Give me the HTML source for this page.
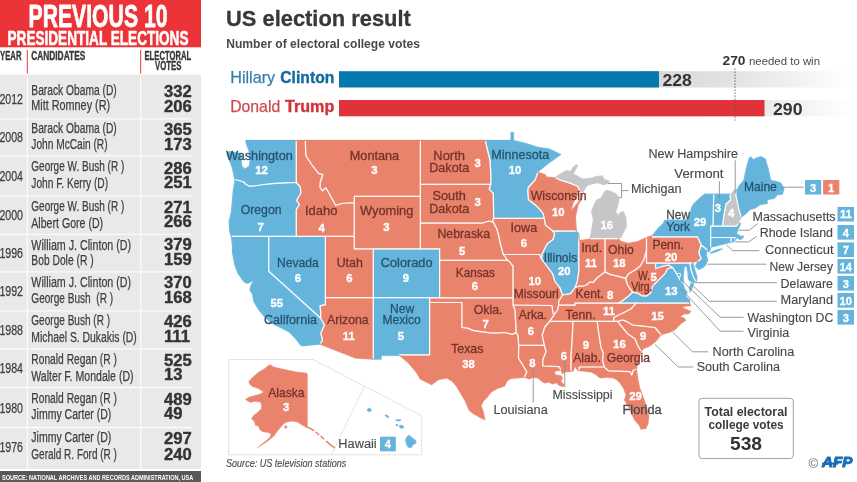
<!DOCTYPE html>
<html lang="en"><head><meta charset="utf-8"><title>US election result</title>
<style>
html,body{margin:0;padding:0;background:#fff}
body{width:857px;height:482px;overflow:hidden}
svg{display:block;font-family:"Liberation Sans",sans-serif}
svg text{white-space:pre}
</style></head><body>
<svg width="857" height="482" viewBox="0 0 857 482">
<rect width="857" height="482" fill="#fff"/>
<rect x="0" y="0" width="201" height="471" fill="#e9e9ea"/>
<rect x="0" y="0" width="201" height="47.5" fill="#ec3338"/>
<rect x="0" y="47.5" width="201" height="27" fill="#fff"/>
<text x="28.5" y="26.8" font-size="31.4" fill="#fff" font-weight="bold" textLength="139.0" lengthAdjust="spacingAndGlyphs" stroke="#fff" stroke-width="0.8" stroke-linejoin="round">PREVIOUS 10</text>
<text x="7.5" y="44.9" font-size="20" fill="#fff" font-weight="bold" textLength="181.0" lengthAdjust="spacingAndGlyphs" stroke="#fff" stroke-width="0.6" stroke-linejoin="round">PRESIDENTIAL ELECTIONS</text>
<text x="0.0" y="60.0" font-size="12.8" fill="#3a3a3a" font-weight="bold" textLength="21.5" lengthAdjust="spacingAndGlyphs" stroke="#3a3a3a" stroke-width="0.4" stroke-linejoin="round">YEAR</text>
<text x="31.2" y="60.0" font-size="12.8" fill="#3a3a3a" font-weight="bold" textLength="54.1" lengthAdjust="spacingAndGlyphs" stroke="#3a3a3a" stroke-width="0.4" stroke-linejoin="round">CANDIDATES</text>
<text x="144.5" y="60.0" font-size="12.8" fill="#3a3a3a" font-weight="bold" textLength="46.7" lengthAdjust="spacingAndGlyphs" stroke="#3a3a3a" stroke-width="0.4" stroke-linejoin="round">ELECTORAL</text>
<text x="155.0" y="70.3" font-size="12.8" fill="#3a3a3a" font-weight="bold" textLength="26.5" lengthAdjust="spacingAndGlyphs" stroke="#3a3a3a" stroke-width="0.4" stroke-linejoin="round">VOTES</text>
<path d="M27.3 50V73.5M140.7 50V73.5" stroke="#ec3338" stroke-width="1" fill="none"/>
<path d="M0 118.8H192.3M0 155.8H192.3M0 195.8H192.3M0 234.3H192.3M0 271.8H192.3M0 310.8H192.3M0 348.8H192.3M0 387.5H192.3M0 427.5H192.3M27.4 74.5V469M140.7 74.5V469" stroke="#fff" stroke-opacity="0.8" stroke-width="1.3" fill="none"/>
<rect x="0" y="469" width="201" height="2" fill="#fff"/>
<rect x="0" y="471" width="201" height="11" fill="#58595b"/>
<text x="2.0" y="479.6" font-size="8" fill="#fff" font-weight="bold" textLength="191.3" lengthAdjust="spacingAndGlyphs">SOURCE: NATIONAL ARCHIVES AND RECORDS ADMINISTRATION, USA</text>
<text x="-0.6" y="104.2" font-size="13.8" fill="#3f3f3f" textLength="23.6" lengthAdjust="spacingAndGlyphs" stroke="#3f3f3f" stroke-width="0.25" stroke-linejoin="round">2012</text>
<text x="31.3" y="94.7" font-size="13.8" fill="#3f3f3f" textLength="85.5" lengthAdjust="spacingAndGlyphs" stroke="#3f3f3f" stroke-width="0.25" stroke-linejoin="round" xml:space="preserve">Barack Obama (D)</text>
<text x="31.3" y="110.3" font-size="13.8" fill="#3f3f3f" textLength="78.8" lengthAdjust="spacingAndGlyphs" stroke="#3f3f3f" stroke-width="0.25" stroke-linejoin="round" xml:space="preserve">Mitt Romney (R)</text>
<text x="164.0" y="96.5" font-size="15.7" fill="#333" font-weight="bold" textLength="27.8" lengthAdjust="spacingAndGlyphs" stroke="#333" stroke-width="0.35" stroke-linejoin="round">332</text>
<text x="164.0" y="112.0" font-size="15.7" fill="#333" font-weight="bold" textLength="27.8" lengthAdjust="spacingAndGlyphs" stroke="#333" stroke-width="0.35" stroke-linejoin="round">206</text>
<text x="-0.6" y="142.3" font-size="13.8" fill="#3f3f3f" textLength="23.6" lengthAdjust="spacingAndGlyphs" stroke="#3f3f3f" stroke-width="0.25" stroke-linejoin="round">2008</text>
<text x="31.3" y="133.3" font-size="13.8" fill="#3f3f3f" textLength="85.5" lengthAdjust="spacingAndGlyphs" stroke="#3f3f3f" stroke-width="0.25" stroke-linejoin="round" xml:space="preserve">Barack Obama (D)</text>
<text x="31.3" y="149.2" font-size="13.8" fill="#3f3f3f" textLength="76.3" lengthAdjust="spacingAndGlyphs" stroke="#3f3f3f" stroke-width="0.25" stroke-linejoin="round" xml:space="preserve">John McCain (R)</text>
<text x="164.0" y="134.7" font-size="15.7" fill="#333" font-weight="bold" textLength="27.8" lengthAdjust="spacingAndGlyphs" stroke="#333" stroke-width="0.35" stroke-linejoin="round">365</text>
<text x="164.0" y="149.7" font-size="15.7" fill="#333" font-weight="bold" textLength="27.8" lengthAdjust="spacingAndGlyphs" stroke="#333" stroke-width="0.35" stroke-linejoin="round">173</text>
<text x="-0.6" y="181.2" font-size="13.8" fill="#3f3f3f" textLength="23.6" lengthAdjust="spacingAndGlyphs" stroke="#3f3f3f" stroke-width="0.25" stroke-linejoin="round">2004</text>
<text x="31.3" y="171.2" font-size="13.8" fill="#3f3f3f" textLength="93.0" lengthAdjust="spacingAndGlyphs" stroke="#3f3f3f" stroke-width="0.25" stroke-linejoin="round" xml:space="preserve">George W. Bush (R )</text>
<text x="31.3" y="187.5" font-size="13.8" fill="#3f3f3f" textLength="76.8" lengthAdjust="spacingAndGlyphs" stroke="#3f3f3f" stroke-width="0.25" stroke-linejoin="round" xml:space="preserve">John F. Kerry (D)</text>
<text x="164.0" y="174.2" font-size="15.7" fill="#333" font-weight="bold" textLength="27.8" lengthAdjust="spacingAndGlyphs" stroke="#333" stroke-width="0.35" stroke-linejoin="round">286</text>
<text x="164.0" y="188.4" font-size="15.7" fill="#333" font-weight="bold" textLength="27.8" lengthAdjust="spacingAndGlyphs" stroke="#333" stroke-width="0.35" stroke-linejoin="round">251</text>
<text x="-0.6" y="220.0" font-size="13.8" fill="#3f3f3f" textLength="23.6" lengthAdjust="spacingAndGlyphs" stroke="#3f3f3f" stroke-width="0.25" stroke-linejoin="round">2000</text>
<text x="31.3" y="210.5" font-size="13.8" fill="#3f3f3f" textLength="93.0" lengthAdjust="spacingAndGlyphs" stroke="#3f3f3f" stroke-width="0.25" stroke-linejoin="round" xml:space="preserve">George W. Bush (R )</text>
<text x="31.3" y="227.5" font-size="13.8" fill="#3f3f3f" textLength="71.8" lengthAdjust="spacingAndGlyphs" stroke="#3f3f3f" stroke-width="0.25" stroke-linejoin="round" xml:space="preserve">Albert Gore (D)</text>
<text x="164.0" y="212.7" font-size="15.7" fill="#333" font-weight="bold" textLength="27.8" lengthAdjust="spacingAndGlyphs" stroke="#333" stroke-width="0.35" stroke-linejoin="round">271</text>
<text x="164.0" y="227.2" font-size="15.7" fill="#333" font-weight="bold" textLength="27.8" lengthAdjust="spacingAndGlyphs" stroke="#333" stroke-width="0.35" stroke-linejoin="round">266</text>
<text x="-0.6" y="257.5" font-size="13.8" fill="#3f3f3f" textLength="23.6" lengthAdjust="spacingAndGlyphs" stroke="#3f3f3f" stroke-width="0.25" stroke-linejoin="round">1996</text>
<text x="31.3" y="249.5" font-size="13.8" fill="#3f3f3f" textLength="99.8" lengthAdjust="spacingAndGlyphs" stroke="#3f3f3f" stroke-width="0.25" stroke-linejoin="round" xml:space="preserve">William J. Clinton (D)</text>
<text x="31.3" y="265.0" font-size="13.8" fill="#3f3f3f" textLength="62.3" lengthAdjust="spacingAndGlyphs" stroke="#3f3f3f" stroke-width="0.25" stroke-linejoin="round" xml:space="preserve">Bob Dole (R )</text>
<text x="164.0" y="250.2" font-size="15.7" fill="#333" font-weight="bold" textLength="27.8" lengthAdjust="spacingAndGlyphs" stroke="#333" stroke-width="0.35" stroke-linejoin="round">379</text>
<text x="164.0" y="265.2" font-size="15.7" fill="#333" font-weight="bold" textLength="27.8" lengthAdjust="spacingAndGlyphs" stroke="#333" stroke-width="0.35" stroke-linejoin="round">159</text>
<text x="-0.6" y="296.2" font-size="13.8" fill="#3f3f3f" textLength="23.6" lengthAdjust="spacingAndGlyphs" stroke="#3f3f3f" stroke-width="0.25" stroke-linejoin="round">1992</text>
<text x="31.3" y="287.0" font-size="13.8" fill="#3f3f3f" textLength="99.8" lengthAdjust="spacingAndGlyphs" stroke="#3f3f3f" stroke-width="0.25" stroke-linejoin="round" xml:space="preserve">William J. Clinton (D)</text>
<text x="31.3" y="302.5" font-size="13.8" fill="#3f3f3f" textLength="81.8" lengthAdjust="spacingAndGlyphs" stroke="#3f3f3f" stroke-width="0.25" stroke-linejoin="round" xml:space="preserve">George Bush  (R )</text>
<text x="164.0" y="288.4" font-size="15.7" fill="#333" font-weight="bold" textLength="27.8" lengthAdjust="spacingAndGlyphs" stroke="#333" stroke-width="0.35" stroke-linejoin="round">370</text>
<text x="164.0" y="302.9" font-size="15.7" fill="#333" font-weight="bold" textLength="27.8" lengthAdjust="spacingAndGlyphs" stroke="#333" stroke-width="0.35" stroke-linejoin="round">168</text>
<text x="-0.6" y="334.5" font-size="13.8" fill="#3f3f3f" textLength="23.6" lengthAdjust="spacingAndGlyphs" stroke="#3f3f3f" stroke-width="0.25" stroke-linejoin="round">1988</text>
<text x="31.3" y="325.0" font-size="13.8" fill="#3f3f3f" textLength="78.8" lengthAdjust="spacingAndGlyphs" stroke="#3f3f3f" stroke-width="0.25" stroke-linejoin="round" xml:space="preserve">George Bush (R )</text>
<text x="31.3" y="342.0" font-size="13.8" fill="#3f3f3f" textLength="105.5" lengthAdjust="spacingAndGlyphs" stroke="#3f3f3f" stroke-width="0.25" stroke-linejoin="round" xml:space="preserve">Michael S. Dukakis (D)</text>
<text x="164.0" y="326.7" font-size="15.7" fill="#333" font-weight="bold" textLength="27.8" lengthAdjust="spacingAndGlyphs" stroke="#333" stroke-width="0.35" stroke-linejoin="round">426</text>
<text x="164.0" y="342.2" font-size="15.7" fill="#333" font-weight="bold" textLength="25.9" lengthAdjust="spacingAndGlyphs" stroke="#333" stroke-width="0.35" stroke-linejoin="round">111</text>
<text x="-0.6" y="373.0" font-size="13.8" fill="#3f3f3f" textLength="23.6" lengthAdjust="spacingAndGlyphs" stroke="#3f3f3f" stroke-width="0.25" stroke-linejoin="round">1984</text>
<text x="31.3" y="363.7" font-size="13.8" fill="#3f3f3f" textLength="85.5" lengthAdjust="spacingAndGlyphs" stroke="#3f3f3f" stroke-width="0.25" stroke-linejoin="round" xml:space="preserve">Ronald Regan (R )</text>
<text x="31.3" y="380.5" font-size="13.8" fill="#3f3f3f" textLength="102.3" lengthAdjust="spacingAndGlyphs" stroke="#3f3f3f" stroke-width="0.25" stroke-linejoin="round" xml:space="preserve">Walter F. Mondale (D)</text>
<text x="164.0" y="365.9" font-size="15.7" fill="#333" font-weight="bold" textLength="27.8" lengthAdjust="spacingAndGlyphs" stroke="#333" stroke-width="0.35" stroke-linejoin="round">525</text>
<text x="164.0" y="379.7" font-size="15.7" fill="#333" font-weight="bold" textLength="18.5" lengthAdjust="spacingAndGlyphs" stroke="#333" stroke-width="0.35" stroke-linejoin="round">13</text>
<text x="-0.6" y="412.5" font-size="13.8" fill="#3f3f3f" textLength="23.6" lengthAdjust="spacingAndGlyphs" stroke="#3f3f3f" stroke-width="0.25" stroke-linejoin="round">1980</text>
<text x="31.3" y="403.0" font-size="13.8" fill="#3f3f3f" textLength="85.5" lengthAdjust="spacingAndGlyphs" stroke="#3f3f3f" stroke-width="0.25" stroke-linejoin="round" xml:space="preserve">Ronald Regan (R )</text>
<text x="31.3" y="419.2" font-size="13.8" fill="#3f3f3f" textLength="80.0" lengthAdjust="spacingAndGlyphs" stroke="#3f3f3f" stroke-width="0.25" stroke-linejoin="round" xml:space="preserve">Jimmy Carter (D)</text>
<text x="164.0" y="404.7" font-size="15.7" fill="#333" font-weight="bold" textLength="27.8" lengthAdjust="spacingAndGlyphs" stroke="#333" stroke-width="0.35" stroke-linejoin="round">489</text>
<text x="164.0" y="418.9" font-size="15.7" fill="#333" font-weight="bold" textLength="18.5" lengthAdjust="spacingAndGlyphs" stroke="#333" stroke-width="0.35" stroke-linejoin="round">49</text>
<text x="-0.6" y="451.6" font-size="13.8" fill="#3f3f3f" textLength="23.6" lengthAdjust="spacingAndGlyphs" stroke="#3f3f3f" stroke-width="0.25" stroke-linejoin="round">1976</text>
<text x="31.3" y="442.0" font-size="13.8" fill="#3f3f3f" textLength="80.0" lengthAdjust="spacingAndGlyphs" stroke="#3f3f3f" stroke-width="0.25" stroke-linejoin="round" xml:space="preserve">Jimmy Carter (D)</text>
<text x="31.3" y="458.6" font-size="13.8" fill="#3f3f3f" textLength="85.6" lengthAdjust="spacingAndGlyphs" stroke="#3f3f3f" stroke-width="0.25" stroke-linejoin="round" xml:space="preserve">Gerald R. Ford (R )</text>
<text x="164.0" y="443.6" font-size="15.7" fill="#333" font-weight="bold" textLength="27.8" lengthAdjust="spacingAndGlyphs" stroke="#333" stroke-width="0.35" stroke-linejoin="round">297</text>
<text x="164.0" y="459.8" font-size="15.7" fill="#333" font-weight="bold" textLength="27.8" lengthAdjust="spacingAndGlyphs" stroke="#333" stroke-width="0.35" stroke-linejoin="round">240</text>
<text x="226.0" y="26.3" font-size="22.6" fill="#383838" font-weight="bold" textLength="184.8" lengthAdjust="spacingAndGlyphs" stroke="#383838" stroke-width="0.3" stroke-linejoin="round">US election result</text>
<text x="226.2" y="47.5" font-size="12.8" fill="#4a4a4a" font-weight="bold" textLength="193.8" lengthAdjust="spacingAndGlyphs">Number of electoral college votes</text>
<defs><linearGradient id="tr" x1="0" x2="1" y1="0" y2="0"><stop offset="0" stop-color="#d6d6d6"/><stop offset="0.45" stop-color="#e3e3e3"/><stop offset="1" stop-color="#ffffff"/></linearGradient></defs>
<rect x="640" y="71.2" width="212" height="16.3" fill="url(#tr)"/>
<rect x="640" y="100" width="212" height="16.3" fill="url(#tr)"/>
<rect x="339" y="71.2" width="320" height="16.3" fill="#0578b0"/>
<rect x="339" y="100" width="425.5" height="16.3" fill="#df3339"/>
<path d="M735 68.5V120.5" stroke="#555" stroke-width="1" stroke-dasharray="1.3 1.7" fill="none"/>
<text x="230.2" y="83.2" font-size="16.2" fill="#357fad" textLength="45.0" lengthAdjust="spacingAndGlyphs" stroke="#357fad" stroke-width="0.25" stroke-linejoin="round">Hillary</text>
<text x="280.3" y="83.2" font-size="16.2" fill="#126b9e" font-weight="bold" textLength="54.0" lengthAdjust="spacingAndGlyphs" stroke="#126b9e" stroke-width="0.4" stroke-linejoin="round">Clinton</text>
<text x="230.2" y="112.2" font-size="16.2" fill="#d0494e" textLength="50.0" lengthAdjust="spacingAndGlyphs" stroke="#d0494e" stroke-width="0.25" stroke-linejoin="round">Donald</text>
<text x="285.0" y="112.2" font-size="16.2" fill="#d03339" font-weight="bold" textLength="49.3" lengthAdjust="spacingAndGlyphs" stroke="#d03339" stroke-width="0.4" stroke-linejoin="round">Trump</text>
<text x="662.5" y="85.7" font-size="17" fill="#333" font-weight="bold" textLength="29.3" lengthAdjust="spacingAndGlyphs">228</text>
<text x="773.0" y="115.0" font-size="17" fill="#333" font-weight="bold" textLength="29.5" lengthAdjust="spacingAndGlyphs">290</text>
<text x="722.5" y="64.5" font-size="12.3" fill="#333" font-weight="bold" textLength="23.0" lengthAdjust="spacingAndGlyphs">270</text>
<text x="749.0" y="64.5" font-size="10.8" fill="#4a4a4a" textLength="71.0" lengthAdjust="spacingAndGlyphs">needed to win</text>
<g stroke-width="0.3" stroke-linejoin="round">
<path d="M245.5 140.0L296.3 140.0L296.3 182.5L285.0 182.8L272.0 183.7L260.3 185.0L254.0 186.0L249.5 186.2L246.0 184.5L243.7 182.0L239.0 180.5L234.5 179.5L233.5 175.0L232.0 168.0L229.0 160.0L226.5 154.0L229.0 151.3L236.0 152.2L241.0 153.2L241.5 160.0L242.0 166.0L245.0 168.8L249.0 166.0L250.0 159.0L248.5 150.0L246.0 144.0Z" fill="#64b4dc" stroke="#64b4dc"/>
<path d="M234.5 179.5L239.0 180.5L243.7 182.0L246.0 184.5L249.5 186.2L254.0 186.0L260.3 185.0L272.0 183.7L285.0 182.8L296.3 182.5L300.3 187.0L300.8 193.3L298.0 198.0L296.7 200.3L299.5 204.5L296.3 209.5L296.3 236.4L231.0 236.4L229.5 232.0L228.7 222.0L231.0 212.0L232.2 198.7L233.0 190.0L234.5 182.0Z" fill="#64b4dc" stroke="#64b4dc"/>
<path d="M231.0 236.4L268.7 236.4L268.7 271.2L320.5 318.0L323.7 323.7L324.2 325.5L320.8 333.3L322.5 340.0L320.0 344.4L302.0 346.2L300.3 345.3L295.3 338.7L288.7 332.0L280.3 327.8L272.0 323.7L268.0 320.5L263.7 316.2L258.7 310.3L253.7 302.0L252.0 293.7L249.5 290.3L250.5 286.0L253.0 281.0L250.0 282.5L247.0 283.7L243.7 282.0L237.8 273.7L234.5 265.3L232.0 252.0L232.0 245.3Z" fill="#64b4dc" stroke="#64b4dc"/>
<path d="M268.7 236.4L325.4 236.4L325.4 297.7L325.4 304.7L320.0 305.8L320.8 313.3L320.5 318.0L268.7 271.2Z" fill="#64b4dc" stroke="#64b4dc"/>
<path d="M296.3 140.0L305.3 140.0L305.8 155.0L307.0 157.5L312.0 165.0L318.7 173.7L322.8 174.5L320.3 182.0L320.0 187.5L322.5 190.8L325.8 187.8L330.0 195.0L335.8 205.5L341.7 203.5L348.0 203.0L354.3 202.6L354.3 236.4L296.3 236.4L296.3 209.5L299.5 204.5L296.7 200.3L298.0 198.0L300.8 193.3L300.3 187.0L296.3 182.5Z" fill="#ea836c" stroke="#ea836c"/>
<path d="M305.3 140.0L420.4 140.0L420.4 196.3L354.3 196.3L354.3 202.6L348.0 203.0L341.7 203.5L335.8 205.5L330.0 195.0L325.8 187.8L322.5 190.8L320.0 187.5L320.3 182.0L322.8 174.5L318.7 173.7L312.0 165.0L307.0 157.5L305.8 155.0L305.3 140.0Z" fill="#ea836c" stroke="#ea836c"/>
<path d="M354.3 196.3L420.4 196.3L420.4 248.9L354.3 248.9Z" fill="#ea836c" stroke="#ea836c"/>
<path d="M325.4 236.4L354.3 236.4L354.3 248.9L373.3 248.9L373.3 297.7L325.4 297.7Z" fill="#ea836c" stroke="#ea836c"/>
<path d="M373.3 248.9L439.6 248.9L439.6 297.7L373.3 297.7Z" fill="#64b4dc" stroke="#64b4dc"/>
<path d="M373.3 297.7L373.3 359.5L355.0 358.3L320.0 344.4L322.5 340.0L320.8 333.3L324.2 325.5L323.7 323.7L320.5 318.0L320.8 313.3L320.0 305.8L325.4 304.7L325.4 297.7Z" fill="#ea836c" stroke="#ea836c"/>
<path d="M373.3 297.7L429.6 297.7L429.6 354.8L399.5 354.8L399.5 355.8L381.5 355.8L381.5 359.5L373.3 359.5Z" fill="#64b4dc" stroke="#64b4dc"/>
<path d="M420.4 140.0L485.3 140.0L487.0 148.0L488.0 152.0L490.0 160.0L490.8 173.3L490.8 184.3L420.4 184.3Z" fill="#ea836c" stroke="#ea836c"/>
<path d="M420.4 184.3L490.8 184.3L489.2 189.2L493.3 193.3L493.7 218.3L492.5 220.5L493.3 222.0L488.3 221.2L481.7 223.2L420.4 223.2Z" fill="#ea836c" stroke="#ea836c"/>
<path d="M420.4 223.2L481.7 223.2L488.3 221.2L493.3 222.0L496.7 228.7L498.5 235.0L500.0 242.0L501.5 248.0L503.3 254.5L506.0 258.0L507.5 260.3L439.6 260.3L439.6 248.9L420.4 248.9Z" fill="#ea836c" stroke="#ea836c"/>
<path d="M439.6 260.3L507.5 260.3L510.0 262.0L511.5 264.5L513.0 266.0L513.1 297.8L439.6 297.8Z" fill="#ea836c" stroke="#ea836c"/>
<path d="M429.6 297.8L513.1 297.8L513.1 305.0L515.0 310.0L516.2 332.5L512.5 334.4L505.0 332.5L492.5 333.1L482.5 331.9L473.7 330.6L467.5 328.1L461.9 327.5L461.9 302.5L429.6 302.5Z" fill="#ea836c" stroke="#ea836c"/>
<path d="M429.6 302.5L461.9 302.5L461.9 327.5L467.5 328.1L473.7 330.6L482.5 331.9L492.5 333.1L505.0 332.5L512.5 334.4L516.2 332.5L518.0 335.5L518.7 345.3L518.5 358.3L522.7 365.0L526.8 371.7L524.3 377.5L518.0 378.2L511.0 378.7L507.2 381.2L504.8 386.2L497.3 388.7L491.1 392.4L487.3 397.4L483.6 401.1L481.3 406.1L483.4 411.1L485.2 420.0L481.5 418.5L477.4 416.3L473.0 413.8L469.0 410.5L467.5 407.0L464.9 401.1L460.5 393.5L456.2 386.2L452.0 381.5L446.7 378.3L438.3 380.0L431.7 385.0L420.0 379.2L416.7 373.3L408.3 363.3L399.5 355.8L399.5 354.8L429.6 354.8Z" fill="#ea836c" stroke="#ea836c"/>
<path d="M493.7 218.3L493.3 193.3L489.2 189.2L490.8 184.3L490.8 173.3L490.0 160.0L488.0 152.0L487.0 148.0L485.3 140.0L510.6 140.0L510.6 132.3L513.8 132.3L513.8 140.3L524.7 142.8L538.0 147.0L549.7 148.7L561.3 154.5L549.7 162.8L538.0 172.0L536.7 175.8L535.0 180.0L528.3 187.5L527.8 191.0L528.4 199.5L532.3 202.8L536.0 205.6L540.7 210.3L543.3 214.0L544.2 218.3L493.7 218.3Z" fill="#64b4dc" stroke="#64b4dc"/>
<path d="M493.7 218.3L544.2 218.3L545.5 225.3L552.2 230.3L554.7 233.7L553.0 239.5L547.2 243.7L542.2 253.7L541.3 258.7L539.7 254.5L503.3 254.5L501.5 248.0L500.0 242.0L498.5 235.0L496.7 228.7L493.3 222.0L492.5 220.5Z" fill="#ea836c" stroke="#ea836c"/>
<path d="M539.7 254.5L541.3 258.7L547.5 267.0L552.5 273.7L555.0 281.5L560.0 287.8L562.5 295.0L558.7 301.2L558.7 305.2L557.5 310.0L555.0 313.5L553.1 313.5L551.9 305.5L513.1 305.0L513.0 266.0L511.5 264.5L510.0 262.0L507.5 260.3L506.0 258.0L503.3 254.5Z" fill="#ea836c" stroke="#ea836c"/>
<path d="M513.1 305.0L551.9 305.5L553.1 313.5L555.0 313.5L549.7 321.3L544.7 327.0L542.2 335.3L544.3 345.3L518.7 345.3L518.0 335.5L516.2 332.5L515.0 310.0L513.1 305.0Z" fill="#ea836c" stroke="#ea836c"/>
<path d="M544.3 345.3L546.0 351.7L542.7 360.0L542.7 366.0L559.3 366.7L561.0 370.8L556.0 371.0L554.3 373.3L557.0 375.0L561.0 375.5L563.0 378.0L561.0 381.0L564.5 385.0L563.0 387.0L559.3 385.8L556.0 383.0L552.7 384.2L549.0 382.5L544.3 383.3L541.0 381.0L537.7 378.3L533.0 377.5L529.3 379.2L524.3 377.5L526.8 371.7L522.7 365.0L518.5 358.3L518.7 345.3Z" fill="#ea836c" stroke="#ea836c"/>
<path d="M538.0 172.0L545.0 174.2L546.7 176.7L555.0 177.5L560.0 180.0L570.0 183.1L577.5 186.2L580.0 191.2L577.5 195.5L573.5 202.5L571.5 210.0L576.8 203.5L580.8 198.5L583.5 192.5L582.0 199.0L578.3 205.0L575.8 216.7L576.7 231.2L553.0 231.2L552.2 230.3L545.5 225.3L544.2 218.3L543.3 214.0L540.7 210.3L536.0 205.6L532.3 202.8L528.4 199.5L527.8 191.0L528.3 187.5L535.0 180.0L536.7 175.8L538.0 172.0Z" fill="#ea836c" stroke="#ea836c"/>
<path d="M553.0 231.2L576.7 231.2L578.8 233.0L578.8 271.2L577.2 282.0L575.0 287.5L570.6 293.7L562.5 295.0L560.0 287.8L555.0 281.5L552.5 273.7L547.5 267.0L541.3 258.7L542.2 253.7L547.2 243.7L553.0 239.5L554.7 233.7L552.2 230.3Z" fill="#64b4dc" stroke="#64b4dc"/>
<path d="M555.0 177.5L558.3 175.0L566.7 170.0L570.0 171.2L573.0 167.0L576.2 164.4L578.0 165.5L573.7 173.7L576.2 175.0L582.5 178.7L591.2 178.1L596.2 176.2L602.5 175.6L603.7 178.7L610.0 181.2L607.5 183.7L603.7 185.0L597.5 183.1L591.2 184.4L587.5 185.6L585.0 188.7L583.1 192.5L580.0 191.2L577.5 186.2L570.0 183.1L560.0 180.0Z" fill="#c5c6c8" stroke="#c5c6c8"/>
<path d="M606.2 190.0L611.2 191.2L616.2 193.7L619.4 197.5L618.7 202.5L617.5 207.5L616.0 212.0L618.0 215.0L620.5 212.0L623.7 211.5L626.2 217.5L626.9 226.2L623.7 232.5L621.2 237.5L618.8 238.7L589.7 238.7L591.3 230.3L593.0 220.3L591.2 211.2L593.7 205.0L596.2 200.0L601.2 197.5L603.7 192.5Z" fill="#c5c6c8" stroke="#c5c6c8"/>
<path d="M578.8 233.0L579.7 240.3L589.7 238.7L605.0 238.7L605.0 271.9L597.5 277.5L593.0 282.5L590.0 281.9L586.3 285.0L582.5 286.2L578.7 286.2L575.0 287.5L577.2 282.0L578.8 271.2Z" fill="#ea836c" stroke="#ea836c"/>
<path d="M605.0 238.7L618.8 238.7L621.2 241.2L628.7 243.1L637.5 241.2L646.5 237.3L646.5 250.0L645.6 253.7L643.7 260.0L640.0 266.2L635.0 270.0L628.7 273.7L625.6 278.4L617.5 276.2L610.0 274.4L605.0 271.9Z" fill="#ea836c" stroke="#ea836c"/>
<path d="M570.6 293.7L562.5 295.0L558.7 301.2L558.7 305.2L575.0 305.2L575.0 303.1L618.7 303.1L621.2 301.5L627.5 297.0L632.5 292.2L627.5 285.0L625.6 278.4L617.5 276.2L610.0 274.4L605.0 271.9L597.5 277.5L593.0 282.5L590.0 281.9L586.3 285.0L582.5 286.2L578.7 286.2L575.0 287.5Z" fill="#ea836c" stroke="#ea836c"/>
<path d="M558.7 305.2L575.0 305.2L575.0 303.1L636.2 303.1L631.2 308.7L625.0 312.0L618.7 315.0L613.7 317.8L613.7 321.4L549.7 321.4L555.0 313.5L557.5 310.0Z" fill="#ea836c" stroke="#ea836c"/>
<path d="M549.7 321.4L573.0 321.4L572.2 338.7L571.0 355.0L570.8 371.7L566.0 372.0L562.0 374.0L561.0 370.8L559.3 366.7L542.7 366.0L542.7 360.0L546.0 351.7L544.3 345.3L542.2 335.3L544.7 327.0L549.7 321.3Z" fill="#ea836c" stroke="#ea836c"/>
<path d="M573.0 321.4L597.2 321.4L598.3 330.0L600.8 346.7L603.3 353.3L602.5 360.0L604.2 367.0L579.2 367.0L579.2 371.0L577.0 370.0L575.0 366.7L573.5 371.0L570.8 371.7L571.0 355.0L572.2 338.7L573.0 321.4Z" fill="#ea836c" stroke="#ea836c"/>
<path d="M597.2 321.4L617.5 321.4L622.5 327.5L627.5 333.7L635.0 338.7L637.5 345.0L641.2 351.5L640.0 356.7L638.0 363.0L636.7 369.2L633.3 370.0L631.7 375.0L630.0 371.7L608.3 370.8L604.2 367.0L602.5 360.0L603.3 353.3L600.8 346.7L598.3 330.0L597.2 321.4Z" fill="#ea836c" stroke="#ea836c"/>
<path d="M579.2 367.0L604.2 367.0L608.3 370.8L630.0 371.7L631.7 375.0L633.3 370.0L636.7 369.2L638.3 380.0L640.0 388.3L643.3 396.7L646.7 406.7L649.0 416.7L648.3 423.3L646.3 428.5L640.8 429.5L639.0 425.3L634.3 420.0L631.3 413.3L628.3 406.7L624.2 400.0L625.8 395.0L623.3 388.3L620.0 383.3L616.7 380.0L613.3 378.3L606.7 377.5L600.0 378.3L596.0 375.0L591.7 372.5L585.0 371.5L579.2 371.0Z" fill="#ea836c" stroke="#ea836c"/>
<path d="M617.5 321.4L622.5 320.0L627.5 321.9L632.5 325.0L642.5 326.2L655.0 327.5L661.2 335.0L656.2 341.2L650.0 346.2L643.7 348.7L641.2 351.5L637.5 345.0L635.0 338.7L627.5 333.7L622.5 327.5L617.5 321.4Z" fill="#ea836c" stroke="#ea836c"/>
<path d="M636.2 303.1L690.0 303.1L691.0 306.0L686.0 306.3L682.5 307.5L686.5 309.2L691.2 311.2L689.0 314.0L684.0 314.3L680.5 316.5L684.5 318.0L686.0 320.5L681.2 323.7L675.0 330.0L670.0 332.5L661.2 335.0L655.0 327.5L642.5 326.2L632.5 325.0L627.5 321.9L622.5 320.0L617.5 321.4L613.7 321.4L613.7 317.8L618.7 315.0L625.0 312.0L631.2 308.7L636.2 303.1Z" fill="#ea836c" stroke="#ea836c"/>
<path d="M618.7 303.1L621.2 301.5L627.5 297.0L632.5 292.2L637.5 293.1L641.2 295.6L646.2 296.2L651.2 292.5L652.5 286.2L656.2 282.5L660.0 278.7L665.0 273.7L667.5 268.7L672.5 267.5L675.0 271.2L677.5 275.0L680.0 280.0L683.7 285.0L685.0 289.0L687.5 292.0L686.0 296.0L690.0 300.0L690.0 303.1L618.7 303.1Z" fill="#64b4dc" stroke="#64b4dc"/>
<path d="M691.2 282.5L694.0 283.0L692.5 288.0L690.0 292.5L689.0 288.0Z" fill="#64b4dc" stroke="#64b4dc"/>
<path d="M625.6 278.4L627.5 285.0L632.5 292.2L637.5 293.1L641.2 295.6L646.2 296.2L651.2 292.5L652.5 286.2L656.2 282.5L660.0 278.7L665.0 273.7L667.5 268.7L672.5 267.5L668.7 265.0L662.5 266.2L655.6 268.7L655.6 263.2L646.5 263.2L646.5 250.0L645.6 253.7L643.7 260.0L640.0 266.2L635.0 270.0L628.7 273.7L625.6 278.4Z" fill="#ea836c" stroke="#ea836c"/>
<path d="M655.6 263.2L690.0 263.2L691.0 270.0L693.0 276.0L696.2 282.5L694.0 283.0L691.2 282.5L688.0 279.0L687.5 272.0L686.5 266.5L684.5 267.0L684.0 272.0L683.5 277.0L684.0 283.0L680.0 280.0L677.5 275.0L675.0 271.2L672.5 267.5L668.7 265.0L662.5 266.2L655.6 268.7Z" fill="#64b4dc" stroke="#64b4dc"/>
<path d="M690.0 263.2L693.0 262.5L694.0 266.0L695.0 270.0L697.5 277.5L696.2 282.5L693.0 276.0L691.0 270.0Z" fill="#64b4dc" stroke="#64b4dc"/>
<path d="M646.5 237.3L652.5 235.0L652.5 236.9L697.5 236.9L701.2 245.0L698.7 252.5L701.2 258.7L697.5 261.5L693.0 262.5L690.0 263.2L646.5 263.2Z" fill="#ea836c" stroke="#ea836c"/>
<path d="M701.2 245.0L707.5 250.0L706.5 255.0L708.1 260.0L706.0 265.0L703.7 267.5L698.7 270.0L695.0 266.2L697.5 261.5L701.2 258.7L698.7 252.5Z" fill="#64b4dc" stroke="#64b4dc"/>
<path d="M652.5 235.0L658.0 228.0L663.7 222.5L664.0 220.3L672.0 219.5L680.0 220.0L688.0 219.0L690.0 214.0L691.2 207.5L694.0 203.0L697.5 200.0L701.0 196.5L705.0 193.7L713.7 193.7L713.4 210.0L713.0 226.2L710.6 226.2L710.6 247.5L710.6 250.5L708.5 252.5L707.5 250.0L701.2 245.0L697.5 236.9L652.5 236.9Z" fill="#64b4dc" stroke="#64b4dc"/>
<path d="M710.5 252.5L714.0 250.5L719.0 249.0L723.0 248.5L719.0 251.0L714.0 252.8L710.5 253.8Z" fill="#64b4dc" stroke="#64b4dc"/>
<path d="M713.7 193.7L730.0 193.7L730.6 200.0L726.2 203.7L724.4 212.5L722.5 226.2L713.0 226.2L713.4 210.0Z" fill="#64b4dc" stroke="#64b4dc"/>
<path d="M733.7 190.0L735.6 190.0L736.0 196.0L738.7 208.7L741.2 217.5L738.7 223.7L736.2 226.2L722.5 226.2L724.4 212.5L726.2 203.7L730.6 200.0L730.0 193.7L732.0 193.0Z" fill="#c5c6c8" stroke="#c5c6c8"/>
<path d="M735.6 190.0L737.7 188.7L738.5 186.2L743.5 180.3L746.0 168.7L748.5 159.0L750.6 156.6L753.5 159.2L757.0 157.5L761.0 156.3L765.5 158.8L768.5 168.7L771.0 180.3L776.0 181.0L781.0 182.8L784.3 188.7L782.7 194.5L777.5 195.0L774.3 198.7L767.5 200.0L767.7 203.7L760.0 205.0L756.0 208.0L750.0 210.0L746.0 214.0L741.2 217.5L738.7 208.7L736.0 196.0L735.6 190.0Z" fill="#64b4dc" stroke="#64b4dc"/>
<path d="M710.6 226.2L736.2 226.2L738.7 223.7L741.2 223.1L739.5 227.0L738.1 230.0L736.9 233.7L741.2 236.2L744.0 235.5L743.0 238.5L740.0 240.0L737.0 238.0L735.0 240.5L735.0 237.5L710.6 237.5Z" fill="#64b4dc" stroke="#64b4dc"/>
<path d="M710.6 237.5L731.2 237.5L731.2 242.5L721.2 245.0L715.0 246.5L710.6 247.5Z" fill="#64b4dc" stroke="#64b4dc"/>
<path d="M731.2 237.5L735.0 237.5L735.0 240.5L733.5 242.3L731.2 242.5Z" fill="#64b4dc" stroke="#64b4dc"/>
<path d="M270.3 364.5L273.0 366.5L277.0 367.8L283.0 369.0L288.7 370.3L297.0 372.0L305.3 372.8L307.5 373.7L307.5 426.7L311.0 428.0L314.5 430.3L313.6 431.2L310.0 429.0L306.0 427.5L302.0 425.0L297.0 422.0L292.0 421.3L288.0 421.8L284.5 423.3L281.5 426.3L277.0 431.7L274.0 436.0L268.0 441.0L262.0 445.0L257.0 448.3L260.5 445.0L265.5 441.2L270.0 437.0L271.0 434.0L268.0 432.5L263.0 432.0L260.3 430.3L258.0 426.0L255.3 425.3L254.0 421.0L251.2 418.7L253.7 415.3L258.0 412.0L261.2 408.7L261.5 405.0L260.3 402.0L255.0 401.5L250.0 402.5L245.3 399.5L249.0 397.0L255.3 395.3L260.0 394.0L263.7 392.0L258.0 388.5L252.0 386.5L249.5 384.0L248.7 381.2L253.0 377.0L258.7 372.0L264.0 369.0L267.5 366.0Z" fill="#ea836c" stroke="#ea836c"/>
<path d="M284.2 426.6L286.3 425.6L287.3 427.4L285.2 428.8Z" fill="#ea836c" stroke="#ea836c"/>
<path d="M316.0 431.6L319.5 434.3L318.6 435.2L315.2 432.5Z" fill="#ea836c" stroke="#ea836c"/>
<path d="M321.0 435.6L324.5 438.8L323.6 439.7L320.2 436.6Z" fill="#ea836c" stroke="#ea836c"/>
<path d="M326.5 440.6L331.0 444.4L335.3 447.5L334.3 448.2L330.0 445.4L325.6 441.6Z" fill="#ea836c" stroke="#ea836c"/>
<path d="M371.5 410.0L371.1 411.1L370.0 411.7L368.6 411.7L367.5 411.1L367.1 410.0L367.5 408.9L368.6 408.3L370.0 408.3L371.1 408.9Z" fill="#64b4dc" stroke="#64b4dc"/>
<path d="M388.9 417.5L388.2 417.7L387.0 417.4L385.9 416.6L385.1 415.6L385.1 414.9L385.8 414.7L387.0 415.0L388.1 415.8L388.9 416.8Z" fill="#64b4dc" stroke="#64b4dc"/>
<path d="M401.3 420.2L400.7 420.7L399.2 421.0L397.4 421.0L395.9 420.7L395.3 420.2L395.9 419.7L397.4 419.4L399.2 419.4L400.7 419.7Z" fill="#64b4dc" stroke="#64b4dc"/>
<path d="M403.9 427.5L403.2 428.3L401.8 428.5L400.3 428.0L399.3 427.1L399.1 426.1L399.8 425.3L401.2 425.1L402.7 425.6L403.7 426.5Z" fill="#64b4dc" stroke="#64b4dc"/>
<path d="M398.2 425.0L398.0 425.5L397.4 425.9L396.6 425.9L396.0 425.5L395.8 425.0L396.0 424.5L396.6 424.1L397.4 424.1L398.0 424.5Z" fill="#64b4dc" stroke="#64b4dc"/>
<path d="M406.0 437.5L409.0 435.0L412.0 437.5L415.5 440.0L416.5 443.0L413.0 445.0L411.5 447.8L408.0 447.5L406.3 444.0L405.3 440.5Z" fill="#64b4dc" stroke="#64b4dc"/>
</g>
<mask id="land" maskUnits="userSpaceOnUse" x="0" y="0" width="857" height="482"><path d="M226.5 154.0L226.5 154.0L229.0 160.0L229.0 160.0L232.0 168.0L232.0 168.0L232.0 168.0L233.5 175.0L234.5 179.5L234.5 179.5L234.5 179.5L234.5 182.0L234.5 182.0L234.5 182.0L233.0 190.0L233.0 190.0L232.2 198.7L231.0 212.0L231.0 212.0L228.7 222.0L228.7 222.0L228.7 222.0L229.5 232.0L229.5 232.0L229.5 232.0L231.0 236.4L231.0 236.4L231.0 236.4L232.0 245.3L232.0 245.3L232.0 252.0L232.0 252.0L232.0 252.0L234.5 265.3L234.5 265.3L234.5 265.3L237.8 273.7L237.8 273.7L237.8 273.7L243.7 282.0L243.7 282.0L243.7 282.0L247.0 283.7L247.0 283.7L247.0 283.7L250.0 282.5L250.0 282.5L252.6 281.2L252.6 281.2L252.6 281.2L252.6 281.2L252.7 281.2L252.7 281.2L252.7 281.2L252.7 281.2L252.7 281.2L252.7 281.2L252.7 281.2L252.8 281.2L252.8 281.2L252.8 281.2L252.8 281.2L252.8 281.3L252.8 281.3L252.8 281.3L252.8 281.3L252.8 281.3L252.8 281.3L252.8 281.3L252.8 281.4L252.8 281.4L252.8 281.4L252.8 281.4L250.5 286.0L250.5 286.0L250.5 286.0L249.5 290.3L249.5 290.3L249.5 290.3L252.0 293.7L252.0 293.7L252.0 293.7L252.0 293.7L252.0 293.7L253.7 302.0L253.7 302.0L253.7 302.0L258.7 310.3L258.7 310.3L258.7 310.3L263.7 316.2L263.7 316.2L268.0 320.5L268.0 320.5L272.0 323.7L272.0 323.7L272.0 323.7L280.3 327.8L280.3 327.8L288.7 332.0L288.7 332.0L288.7 332.0L288.7 332.0L295.3 338.7L295.3 338.7L300.3 345.3L300.3 345.3L300.3 345.3L302.0 346.2L302.0 346.2L302.0 346.2L320.0 344.4L320.0 344.4L320.0 344.4L320.0 344.4L320.0 344.4L320.0 344.4L355.0 358.3L355.0 358.3L355.0 358.3L373.3 359.5L373.3 359.5L373.3 359.5L373.3 359.5L381.5 359.5L381.5 359.5L381.5 359.5L381.5 355.9L381.5 355.9L381.5 355.9L381.5 355.9L381.5 355.9L381.5 355.9L381.5 355.9L381.5 355.9L381.5 355.8L381.6 355.8L381.6 355.8L381.6 355.8L381.6 355.8L381.6 355.8L381.6 355.8L381.6 355.8L381.6 355.8L399.4 355.8L399.5 355.8L399.5 355.8L399.5 355.8L399.5 355.8L399.5 355.8L399.5 355.8L399.5 355.8L408.3 363.3L408.3 363.3L408.3 363.3L416.7 373.3L416.7 373.3L416.7 373.3L420.0 379.2L420.0 379.2L420.0 379.2L431.7 385.0L431.7 385.0L431.7 385.0L438.3 380.0L438.3 380.0L438.3 380.0L438.3 380.0L438.3 380.0L438.3 380.0L446.6 378.3L446.7 378.3L446.7 378.3L446.7 378.3L446.7 378.3L446.7 378.3L446.7 378.3L446.7 378.3L446.8 378.3L452.0 381.5L452.0 381.5L452.0 381.5L452.0 381.5L456.2 386.2L456.2 386.2L456.2 386.2L460.5 393.5L460.5 393.5L464.9 401.1L464.9 401.1L467.5 407.0L467.5 407.0L469.0 410.5L469.0 410.5L469.0 410.5L473.0 413.8L473.0 413.8L473.0 413.8L477.4 416.3L477.4 416.3L481.5 418.5L481.5 418.5L485.2 420.0L485.2 420.0L485.2 420.0L483.4 411.1L483.4 411.1L483.4 411.1L481.3 406.2L481.3 406.1L481.3 406.1L481.3 406.1L481.3 406.1L481.3 406.1L481.3 406.1L481.3 406.1L481.3 406.0L483.6 401.1L483.6 401.1L483.6 401.1L483.6 401.1L483.6 401.1L487.3 397.4L487.3 397.4L491.1 392.4L491.1 392.4L491.1 392.4L491.1 392.4L491.1 392.4L497.3 388.7L497.3 388.7L497.3 388.7L504.8 386.2L504.8 386.2L504.8 386.2L507.2 381.2L507.2 381.2L507.2 381.2L507.2 381.2L507.2 381.2L507.2 381.2L507.2 381.2L511.0 378.7L511.0 378.7L511.0 378.7L511.0 378.7L511.0 378.7L511.0 378.7L518.0 378.2L518.0 378.2L524.3 377.5L524.3 377.5L524.3 377.5L524.3 377.5L524.3 377.5L529.3 379.2L529.3 379.2L529.3 379.2L533.0 377.5L533.0 377.5L533.0 377.5L533.0 377.5L533.0 377.5L533.0 377.5L533.0 377.5L537.7 378.3L537.7 378.3L537.7 378.3L537.7 378.3L537.7 378.3L537.7 378.3L541.0 381.0L541.0 381.0L544.3 383.3L544.3 383.3L544.3 383.3L549.0 382.5L549.0 382.5L549.0 382.5L549.0 382.5L549.0 382.5L549.0 382.5L549.0 382.5L552.7 384.2L552.7 384.2L552.7 384.2L555.9 383.0L555.9 383.0L555.9 383.0L556.0 383.0L556.0 383.0L556.0 383.0L556.0 383.0L556.0 383.0L556.0 383.0L556.0 383.0L556.1 383.0L556.1 383.1L559.3 385.8L559.3 385.8L559.3 385.8L563.0 387.0L563.0 387.0L563.0 387.0L564.5 385.0L564.5 385.0L564.5 385.0L561.1 381.1L561.1 381.1L561.1 381.1L561.1 381.0L561.0 381.0L561.0 381.0L561.0 381.0L561.0 381.0L561.0 381.0L561.0 381.0L561.0 380.9L561.0 380.9L561.1 380.9L561.1 380.9L563.0 378.0L563.0 378.0L563.0 378.0L561.0 375.5L561.0 375.5L561.0 375.5L557.0 375.0L557.0 375.0L557.0 375.0L557.0 375.0L557.0 375.0L554.4 373.4L554.4 373.4L554.4 373.4L554.4 373.4L554.4 373.3L554.4 373.3L554.4 373.3L554.4 373.3L554.4 373.3L554.4 373.3L554.4 373.3L554.4 373.3L554.4 373.2L554.4 373.2L554.4 373.2L554.4 373.2L554.4 373.2L554.4 373.2L556.0 371.1L556.0 371.0L556.0 371.0L556.0 371.0L556.0 371.0L556.0 371.0L556.0 371.0L556.0 371.0L556.1 371.0L556.1 371.0L560.9 370.8L560.9 370.8L560.9 370.8L560.9 370.8L560.9 370.8L561.0 370.8L561.0 370.8L561.0 370.8L561.0 370.8L561.0 370.9L561.0 370.9L561.0 370.9L561.0 370.9L561.0 370.9L562.0 374.0L562.0 374.0L562.0 374.0L566.0 372.0L566.0 372.0L566.0 372.0L566.0 372.0L566.0 372.0L570.8 371.7L570.8 371.7L570.8 371.7L570.8 371.7L570.8 371.7L573.5 371.0L573.5 371.0L573.5 371.0L574.9 367.0L574.9 367.0L574.9 367.0L574.9 367.0L574.9 367.0L574.9 366.9L574.9 366.9L575.0 366.9L575.0 366.9L575.0 366.9L575.0 366.9L575.0 366.9L575.0 366.9L575.0 366.9L575.1 366.9L575.1 366.9L575.1 366.9L575.1 366.9L575.1 366.9L575.1 366.9L575.1 366.9L575.1 366.9L575.2 367.0L575.2 367.0L577.0 370.0L577.0 370.0L577.0 370.0L579.2 371.0L579.2 371.0L579.2 371.0L579.2 371.0L579.2 371.0L585.0 371.5L585.0 371.5L591.7 372.5L591.7 372.5L591.7 372.5L591.7 372.5L591.7 372.5L596.0 375.0L596.0 375.0L596.0 375.0L600.0 378.3L600.0 378.3L600.0 378.3L606.7 377.5L606.7 377.5L606.7 377.5L613.3 378.3L613.3 378.3L613.3 378.3L613.3 378.3L616.7 380.0L616.7 380.0L616.7 380.0L616.7 380.0L620.0 383.3L620.0 383.3L620.0 383.3L623.3 388.3L623.3 388.3L623.3 388.3L625.8 395.0L625.8 395.0L625.8 395.0L625.8 395.0L625.8 395.0L625.8 395.0L625.8 395.0L625.8 395.0L624.2 400.0L624.2 400.0L624.2 400.0L628.3 406.7L628.3 406.7L631.3 413.3L631.3 413.3L634.3 420.0L634.3 420.0L634.3 420.0L639.0 425.3L639.0 425.3L639.0 425.3L639.0 425.3L640.8 429.5L640.8 429.5L640.8 429.5L646.3 428.5L646.3 428.5L646.3 428.5L648.3 423.3L648.3 423.3L648.3 423.3L649.0 416.7L649.0 416.7L649.0 416.7L646.7 406.7L646.7 406.7L643.3 396.7L643.3 396.7L640.0 388.3L640.0 388.3L640.0 388.3L638.3 380.0L638.3 380.0L636.7 369.2L636.7 369.2L636.7 369.2L636.7 369.2L636.7 369.2L638.0 363.0L638.0 363.0L640.0 356.7L640.0 356.7L641.2 351.5L641.2 351.5L641.2 351.5L641.2 351.5L641.2 351.5L641.2 351.5L643.7 348.7L643.7 348.7L643.7 348.7L643.7 348.7L643.7 348.7L643.7 348.7L650.0 346.2L650.0 346.2L650.0 346.2L656.2 341.2L656.2 341.2L656.2 341.2L661.2 335.0L661.2 335.0L661.2 335.0L661.2 335.0L661.2 335.0L661.2 335.0L661.2 335.0L670.0 332.5L670.0 332.5L670.0 332.5L675.0 330.0L675.0 330.0L675.0 330.0L681.2 323.7L681.2 323.7L681.2 323.7L686.0 320.5L686.0 320.5L686.0 320.5L684.5 318.0L684.5 318.0L684.5 318.0L680.8 316.6L680.8 316.6L680.8 316.6L680.7 316.6L680.7 316.6L680.7 316.6L680.7 316.6L680.7 316.5L680.7 316.5L680.7 316.5L680.7 316.5L680.7 316.5L680.7 316.5L680.7 316.5L680.7 316.4L680.7 316.4L680.7 316.4L680.7 316.4L680.7 316.4L680.7 316.4L680.7 316.4L680.7 316.4L680.7 316.3L680.8 316.3L684.0 314.3L684.0 314.3L684.0 314.3L684.0 314.3L684.0 314.3L684.0 314.3L689.0 314.0L689.0 314.0L689.0 314.0L691.2 311.2L691.2 311.2L691.2 311.2L686.5 309.2L682.9 307.7L682.8 307.6L682.8 307.6L682.8 307.6L682.8 307.6L682.8 307.6L682.8 307.6L682.8 307.6L682.8 307.6L682.8 307.6L682.8 307.5L682.8 307.5L682.8 307.5L682.8 307.5L682.8 307.5L682.8 307.5L682.8 307.5L682.8 307.4L682.8 307.4L682.8 307.4L682.8 307.4L682.8 307.4L682.8 307.4L682.8 307.4L682.9 307.4L682.9 307.4L686.0 306.3L686.0 306.3L686.0 306.3L686.0 306.3L691.0 306.0L691.0 306.0L691.0 306.0L690.0 303.1L690.0 303.1L690.0 303.1L690.0 303.1L690.0 300.0L690.0 300.0L690.0 300.0L686.1 296.1L686.1 296.1L686.1 296.0L686.0 296.0L686.0 296.0L686.0 296.0L686.0 296.0L686.0 296.0L686.0 296.0L686.0 296.0L686.0 295.9L686.0 295.9L686.0 295.9L687.5 292.0L687.5 292.0L687.5 292.0L685.0 289.0L685.0 289.0L685.0 289.0L685.0 289.0L685.0 289.0L683.7 285.0L683.7 285.0L683.7 285.0L680.6 280.8L680.6 280.8L680.6 280.8L680.6 280.8L680.6 280.8L680.6 280.8L680.6 280.7L680.6 280.7L680.6 280.7L680.6 280.7L680.6 280.7L680.6 280.7L680.6 280.7L680.6 280.6L680.6 280.6L680.6 280.6L680.6 280.6L680.7 280.6L680.7 280.6L680.7 280.6L680.7 280.6L680.7 280.6L680.7 280.6L680.7 280.6L680.8 280.6L680.8 280.6L680.8 280.6L680.8 280.6L680.8 280.6L680.8 280.6L684.0 283.0L684.0 283.0L684.0 283.0L683.5 277.0L683.5 277.0L683.5 277.0L684.5 267.1L684.5 267.1L684.5 267.1L684.5 267.1L684.5 267.0L684.5 267.0L684.5 267.0L684.5 267.0L684.5 267.0L684.6 267.0L684.6 267.0L684.6 267.0L684.6 267.0L686.3 266.5L686.4 266.5L686.4 266.5L686.4 266.5L686.4 266.5L686.4 266.5L686.4 266.5L686.4 266.5L686.5 266.6L686.5 266.6L686.5 266.6L686.5 266.6L686.5 266.6L686.5 266.6L686.5 266.6L686.5 266.6L686.5 266.6L686.5 266.7L687.5 272.0L687.5 272.0L688.0 279.0L688.0 279.0L688.0 279.0L691.1 282.4L691.1 282.4L691.2 282.5L691.2 282.5L691.2 282.5L691.2 282.5L691.2 282.5L691.2 282.5L691.2 282.5L691.2 282.6L691.2 282.6L691.2 282.6L689.0 288.0L689.0 288.0L689.0 288.0L690.0 292.5L690.0 292.5L690.0 292.5L692.5 288.0L692.5 288.0L692.5 288.0L694.0 283.1L694.0 283.1L694.0 283.1L694.0 283.0L694.0 283.0L694.0 283.0L694.0 283.0L694.0 283.0L694.0 283.0L694.1 283.0L694.1 283.0L694.1 283.0L696.2 282.5L696.2 282.5L696.2 282.5L696.2 282.5L696.2 282.5L697.5 277.5L697.5 277.5L697.5 277.5L695.0 270.0L695.0 270.0L694.0 266.0L694.0 266.0L693.0 262.7L693.0 262.6L693.0 262.6L693.0 262.6L693.0 262.6L693.0 262.6L693.0 262.6L693.0 262.6L693.1 262.5L693.1 262.5L693.1 262.5L693.1 262.5L693.1 262.5L693.1 262.5L693.1 262.5L693.1 262.5L693.1 262.5L693.2 262.5L697.2 261.6L697.2 261.6L697.2 261.6L697.2 261.6L697.2 261.6L697.3 261.6L697.3 261.6L697.3 261.6L697.3 261.6L697.3 261.6L697.3 261.6L697.3 261.6L697.3 261.6L697.3 261.6L697.4 261.7L697.4 261.7L697.4 261.7L697.4 261.7L697.4 261.7L697.4 261.7L697.4 261.7L697.4 261.8L697.4 261.8L697.3 261.8L695.0 266.2L695.0 266.2L695.0 266.2L698.7 270.0L698.7 270.0L698.7 270.0L703.7 267.5L703.7 267.5L703.7 267.5L706.0 265.0L706.0 265.0L706.0 265.0L708.1 260.0L708.1 260.0L708.1 260.0L706.5 255.0L706.5 255.0L706.5 255.0L706.5 255.0L706.5 255.0L706.5 255.0L707.4 250.5L707.4 250.5L707.4 250.5L707.4 250.5L707.4 250.4L707.4 250.4L707.4 250.4L707.5 250.4L707.5 250.4L707.5 250.4L707.5 250.4L707.5 250.4L707.5 250.4L707.5 250.4L707.5 250.4L707.6 250.4L707.6 250.4L707.6 250.4L707.6 250.4L707.6 250.4L707.6 250.4L707.6 250.4L707.7 250.4L707.7 250.4L707.7 250.4L707.7 250.5L707.7 250.5L708.5 252.5L708.5 252.5L708.5 252.5L710.6 250.5L710.6 250.5L710.6 250.5L710.6 247.6L710.6 247.6L710.6 247.6L710.6 247.6L710.6 247.6L710.6 247.6L710.6 247.5L710.6 247.5L710.6 247.5L710.7 247.5L710.7 247.5L710.7 247.5L710.7 247.5L710.7 247.5L710.7 247.5L715.0 246.5L715.0 246.5L721.2 245.0L731.2 242.5L731.2 242.5L731.2 242.5L733.5 242.3L733.5 242.3L733.5 242.3L735.0 240.5L736.9 238.1L736.9 238.1L736.9 238.1L736.9 238.1L737.0 238.1L737.0 238.1L737.0 238.1L737.0 238.1L737.0 238.1L737.0 238.1L737.0 238.1L737.1 238.1L737.1 238.1L737.1 238.1L737.1 238.1L737.1 238.1L740.0 240.0L740.0 240.0L740.0 240.0L743.0 238.5L743.0 238.5L743.0 238.5L744.0 235.5L744.0 235.5L744.0 235.5L741.3 236.2L741.2 236.2L741.2 236.2L741.2 236.2L741.2 236.2L741.2 236.2L741.2 236.2L741.2 236.2L741.1 236.2L737.0 233.8L737.0 233.8L737.0 233.7L737.0 233.7L737.0 233.7L737.0 233.7L736.9 233.7L736.9 233.7L736.9 233.7L736.9 233.7L736.9 233.6L736.9 233.6L736.9 233.6L736.9 233.6L736.9 233.6L738.1 230.0L738.1 230.0L739.5 227.0L739.5 227.0L741.2 223.1L741.2 223.1L741.2 223.1L739.0 223.6L739.0 223.6L739.0 223.6L738.9 223.6L738.9 223.6L738.9 223.6L738.9 223.6L738.9 223.6L738.9 223.6L738.9 223.6L738.8 223.6L738.8 223.6L738.8 223.6L738.8 223.6L738.8 223.5L738.8 223.5L738.8 223.5L738.8 223.5L738.8 223.5L738.8 223.5L738.8 223.5L738.8 223.4L738.8 223.4L741.2 217.5L741.2 217.5L741.2 217.5L741.2 217.5L741.2 217.5L741.2 217.5L741.2 217.5L746.0 214.0L746.0 214.0L746.0 214.0L750.0 210.0L750.0 210.0L750.0 210.0L750.0 210.0L750.0 210.0L750.0 210.0L756.0 208.0L756.0 208.0L756.0 208.0L760.0 205.0L760.0 205.0L760.0 205.0L760.0 205.0L760.0 205.0L760.0 205.0L767.7 203.7L767.7 203.7L767.7 203.7L767.5 200.1L767.5 200.1L767.5 200.1L767.5 200.1L767.5 200.1L767.5 200.1L767.5 200.0L767.5 200.0L767.5 200.0L767.6 200.0L767.6 200.0L767.6 200.0L767.6 200.0L767.6 200.0L767.6 200.0L767.6 200.0L774.3 198.7L774.3 198.7L774.3 198.7L777.5 195.0L777.5 195.0L777.5 195.0L777.5 195.0L777.5 195.0L777.5 195.0L777.5 195.0L777.5 195.0L777.6 195.0L782.7 194.5L782.7 194.5L782.7 194.5L784.3 188.7L784.3 188.7L784.3 188.7L781.0 182.8L781.0 182.8L781.0 182.8L776.0 181.0L776.0 181.0L776.0 181.0L771.1 180.3L771.1 180.3L771.1 180.3L771.1 180.3L771.0 180.3L771.0 180.3L771.0 180.3L771.0 180.3L771.0 180.3L771.0 180.2L771.0 180.2L771.0 180.2L771.0 180.2L768.5 168.7L768.5 168.7L765.5 158.8L765.5 158.8L765.5 158.8L761.0 156.3L761.0 156.3L761.0 156.3L757.0 157.5L757.0 157.5L757.0 157.5L753.6 159.2L753.6 159.2L753.6 159.2L753.5 159.2L753.5 159.2L753.5 159.2L753.5 159.2L753.5 159.2L753.5 159.2L753.5 159.2L753.4 159.2L753.4 159.1L753.4 159.1L750.6 156.6L750.6 156.6L750.6 156.6L748.5 159.0L748.5 159.0L748.5 159.0L746.0 168.7L746.0 168.7L743.5 180.3L743.5 180.3L743.5 180.3L743.5 180.3L743.5 180.3L743.5 180.3L738.5 186.2L738.5 186.2L738.5 186.2L737.7 188.6L737.7 188.7L737.7 188.7L737.7 188.7L737.7 188.7L737.7 188.7L737.7 188.7L737.7 188.7L735.6 190.0L735.6 190.0L735.6 190.0L735.6 190.0L735.6 190.0L735.6 190.0L735.6 190.0L733.7 190.0L733.7 190.0L733.7 190.0L732.0 193.0L732.0 193.0L732.0 193.0L732.0 193.0L732.0 193.0L732.0 193.0L732.0 193.0L731.9 193.0L730.0 193.7L730.0 193.7L730.0 193.7L730.0 193.7L705.0 193.7L705.0 193.7L705.0 193.7L701.0 196.5L701.0 196.5L701.0 196.5L697.5 200.0L697.5 200.0L694.0 203.0L694.0 203.0L694.0 203.0L691.2 207.5L691.2 207.5L691.2 207.5L690.0 214.0L690.0 214.0L690.0 214.0L688.0 218.9L688.0 218.9L688.0 218.9L688.0 219.0L688.0 219.0L688.0 219.0L688.0 219.0L688.0 219.0L688.0 219.0L687.9 219.0L687.9 219.0L687.9 219.0L680.0 220.0L680.0 220.0L680.0 220.0L672.0 219.5L672.0 219.5L672.0 219.5L664.0 220.3L664.0 220.3L664.0 220.3L663.7 222.4L663.7 222.5L663.7 222.5L663.7 222.5L663.7 222.5L663.7 222.5L663.7 222.5L663.7 222.5L658.0 228.0L658.0 228.0L652.5 235.0L652.5 235.0L652.5 235.0L652.5 235.0L652.5 235.0L652.5 235.0L646.5 237.3L646.5 237.3L637.5 241.2L637.5 241.2L637.5 241.2L628.7 243.1L628.7 243.1L628.7 243.1L628.7 243.1L628.7 243.1L628.7 243.1L621.2 241.2L621.2 241.2L621.2 241.2L621.2 241.2L621.2 241.2L621.2 241.2L621.2 241.2L618.9 238.8L618.9 238.8L618.9 238.8L618.9 238.8L618.9 238.8L618.9 238.8L618.9 238.8L618.9 238.8L618.9 238.7L618.9 238.7L618.9 238.7L618.9 238.7L618.9 238.7L618.9 238.7L618.9 238.7L618.9 238.6L618.9 238.6L619.0 238.6L619.0 238.6L619.0 238.6L621.2 237.5L621.2 237.5L621.2 237.5L623.7 232.5L623.7 232.5L626.9 226.2L626.9 226.2L626.9 226.2L626.2 217.5L626.2 217.5L626.2 217.5L623.7 211.5L623.7 211.5L623.7 211.5L620.5 212.0L620.5 212.0L620.5 212.0L618.1 214.8L618.1 214.9L618.1 214.9L618.1 214.9L618.1 214.9L618.1 214.9L618.1 214.9L618.0 214.9L618.0 214.9L618.0 214.9L618.0 214.9L618.0 214.9L618.0 214.9L618.0 214.9L617.9 214.9L617.9 214.9L617.9 214.9L617.9 214.9L617.9 214.8L617.9 214.8L616.0 212.1L616.0 212.0L616.0 212.0L616.0 212.0L616.0 212.0L616.0 212.0L616.0 212.0L616.0 212.0L616.0 211.9L616.0 211.9L617.5 207.5L617.5 207.5L618.7 202.5L618.7 202.5L619.4 197.5L619.4 197.5L619.4 197.5L616.2 193.7L616.2 193.7L616.2 193.7L611.2 191.2L611.2 191.2L611.2 191.2L606.2 190.0L606.2 190.0L606.2 190.0L603.7 192.5L603.7 192.5L603.7 192.5L601.2 197.5L601.2 197.5L601.2 197.5L601.2 197.5L601.2 197.5L601.2 197.5L601.2 197.5L601.2 197.5L596.2 200.0L596.2 200.0L596.2 200.0L593.7 205.0L593.7 205.0L591.2 211.2L591.2 211.2L591.2 211.2L593.0 220.3L593.0 220.3L593.0 220.3L593.0 220.3L593.0 220.3L591.3 230.3L591.3 230.3L589.7 238.6L589.7 238.6L589.7 238.6L589.7 238.6L589.7 238.7L589.7 238.7L589.7 238.7L589.7 238.7L589.7 238.7L589.6 238.7L589.6 238.7L589.6 238.7L589.6 238.7L579.9 240.3L579.8 240.3L579.8 240.3L579.8 240.3L579.8 240.3L579.8 240.3L579.8 240.3L579.8 240.3L579.7 240.2L579.7 240.2L579.7 240.2L579.7 240.2L579.7 240.2L579.7 240.2L579.7 240.2L579.7 240.2L579.7 240.1L578.8 233.0L578.8 233.0L578.8 233.0L578.8 233.0L578.8 233.0L576.7 231.2L576.7 231.2L576.7 231.2L576.7 231.2L576.7 231.2L576.7 231.2L576.7 231.2L576.7 231.2L576.7 231.1L575.8 216.7L575.8 216.7L575.8 216.7L575.8 216.7L578.3 205.0L578.3 205.0L578.3 205.0L578.3 205.0L582.0 199.0L582.0 199.0L582.0 199.0L583.5 192.5L583.5 192.5L583.5 192.5L580.8 198.5L580.8 198.5L580.8 198.5L580.8 198.5L576.8 203.5L576.8 203.5L571.9 209.5L571.9 209.5L571.9 209.5L571.9 209.5L571.9 209.5L571.9 209.5L571.9 209.5L571.9 209.5L571.8 209.5L571.8 209.5L571.8 209.5L571.8 209.5L571.8 209.5L571.8 209.5L571.8 209.5L571.7 209.5L571.7 209.5L571.7 209.5L571.7 209.5L571.7 209.5L571.7 209.4L571.7 209.4L571.7 209.4L571.7 209.4L571.7 209.4L571.7 209.4L571.7 209.4L571.7 209.3L571.7 209.3L573.5 202.5L573.5 202.5L573.5 202.5L573.5 202.5L577.5 195.5L577.5 195.5L579.9 191.3L579.9 191.3L580.0 191.3L580.0 191.3L580.0 191.3L580.0 191.3L580.0 191.3L580.0 191.2L580.0 191.2L580.0 191.2L580.1 191.2L580.1 191.2L580.1 191.2L580.1 191.2L580.1 191.2L580.1 191.3L583.1 192.5L583.1 192.5L583.1 192.5L585.0 188.7L585.0 188.7L585.0 188.7L587.5 185.6L587.5 185.6L587.5 185.6L587.5 185.6L587.5 185.6L587.5 185.6L587.5 185.6L591.2 184.4L591.2 184.4L597.5 183.1L597.5 183.1L597.5 183.1L597.5 183.1L597.5 183.1L597.5 183.1L603.7 185.0L603.7 185.0L603.7 185.0L607.5 183.7L607.5 183.7L607.5 183.7L610.0 181.2L610.0 181.2L610.0 181.2L603.8 178.7L603.7 178.7L603.7 178.7L603.7 178.7L603.7 178.7L603.7 178.7L603.7 178.7L603.7 178.7L603.7 178.6L602.5 175.6L602.5 175.6L602.5 175.6L596.2 176.2L596.2 176.2L596.2 176.2L591.2 178.1L591.2 178.1L591.2 178.1L591.2 178.1L582.5 178.7L582.5 178.7L582.5 178.7L582.5 178.7L582.5 178.7L582.5 178.7L582.5 178.7L576.2 175.0L576.2 175.0L573.8 173.8L573.8 173.8L573.8 173.8L573.8 173.7L573.8 173.7L573.8 173.7L573.8 173.7L573.8 173.7L573.8 173.7L573.8 173.7L573.8 173.7L573.8 173.6L573.8 173.6L573.8 173.6L573.8 173.6L573.8 173.6L573.8 173.6L578.0 165.5L578.0 165.5L578.0 165.5L576.2 164.4L576.2 164.4L576.2 164.4L573.0 167.0L573.0 167.0L573.0 167.0L570.1 171.1L570.1 171.1L570.0 171.1L570.0 171.1L570.0 171.1L570.0 171.2L570.0 171.2L570.0 171.2L570.0 171.2L570.0 171.2L569.9 171.2L569.9 171.2L569.9 171.2L569.9 171.2L566.7 170.0L566.7 170.0L566.7 170.0L558.3 175.0L558.3 175.0L555.0 177.5L555.0 177.5L555.0 177.5L555.0 177.5L555.0 177.5L555.0 177.5L555.0 177.5L555.0 177.5L554.9 177.5L546.8 176.7L546.8 176.7L546.7 176.7L546.7 176.7L546.7 176.7L546.7 176.7L546.7 176.7L546.7 176.7L546.7 176.7L546.7 176.6L545.0 174.2L545.0 174.2L545.0 174.2L538.3 172.1L538.3 172.1L538.2 172.1L538.2 172.1L538.2 172.1L538.2 172.0L538.2 172.0L538.2 172.0L538.2 172.0L538.2 172.0L538.2 172.0L538.2 172.0L538.2 172.0L538.2 171.9L538.2 171.9L538.2 171.9L538.2 171.9L538.2 171.9L538.2 171.9L538.2 171.9L538.2 171.8L538.2 171.8L538.2 171.8L549.7 162.8L549.7 162.8L561.3 154.5L561.3 154.5L561.3 154.5L549.7 148.7L549.7 148.7L549.7 148.7L538.0 147.0L538.0 147.0L538.0 147.0L524.7 142.8L524.7 142.8L513.9 140.3L513.9 140.3L513.9 140.3L513.9 140.3L513.9 140.3L513.9 140.3L513.8 140.3L513.8 140.3L513.8 140.3L513.8 140.2L513.8 140.2L513.8 140.2L513.8 140.2L513.8 140.2L513.8 140.2L513.8 132.3L513.8 132.3L513.8 132.3L510.6 132.3L510.6 132.3L510.6 132.3L510.6 139.8L510.6 139.9L510.6 139.9L510.6 139.9L510.6 139.9L510.6 139.9L510.6 139.9L510.6 139.9L510.6 140.0L510.5 140.0L510.5 140.0L510.5 140.0L510.5 140.0L510.5 140.0L510.5 140.0L510.5 140.0L510.5 140.0L245.5 140.0L245.5 140.0L245.5 140.0L246.0 144.0L246.0 144.0L246.0 144.0L248.5 150.0L248.5 150.0L248.5 150.0L250.0 159.0L250.0 159.0L250.0 159.0L250.0 159.0L249.0 165.9L249.0 166.0L249.0 166.0L249.0 166.0L249.0 166.0L249.0 166.0L249.0 166.0L249.0 166.0L248.9 166.0L245.1 168.7L245.1 168.7L245.1 168.7L245.1 168.7L245.0 168.8L245.0 168.8L245.0 168.8L245.0 168.8L245.0 168.8L245.0 168.8L245.0 168.7L244.9 168.7L244.9 168.7L244.9 168.7L244.9 168.7L242.0 166.0L242.0 166.0L242.0 166.0L242.0 166.0L242.0 166.0L242.0 166.0L242.0 166.0L242.0 166.0L242.0 165.9L241.5 160.0L241.5 160.0L241.0 153.2L241.0 153.2L241.0 153.2L236.0 152.2L236.0 152.2L229.0 151.3L229.0 151.3L229.0 151.3L226.5 154.0ZM710.5 252.5L710.5 252.5L710.5 253.8L710.5 253.8L710.5 253.8L714.0 252.8L714.0 252.8L719.0 251.0L719.0 251.0L719.0 251.0L723.0 248.5L723.0 248.5L723.0 248.5L719.0 249.0L719.0 249.0L719.0 249.0L714.0 250.5L714.0 250.5L714.0 250.5L710.5 252.5ZM405.3 440.5L405.3 440.5L406.3 444.0L406.3 444.0L406.3 444.0L408.0 447.5L408.0 447.5L408.0 447.5L411.5 447.8L411.5 447.8L411.5 447.8L413.0 445.0L413.0 445.0L413.0 445.0L413.0 445.0L413.0 445.0L413.0 445.0L413.0 445.0L416.5 443.0L416.5 443.0L416.5 443.0L415.5 440.0L415.5 440.0L415.5 440.0L412.0 437.5L412.0 437.5L409.0 435.0L409.0 435.0L409.0 435.0L406.0 437.5L406.0 437.5L406.0 437.5L405.3 440.5ZM399.1 426.1L399.1 426.1L399.3 427.1L399.3 427.1L399.3 427.1L400.3 428.0L400.3 428.0L400.3 428.0L401.8 428.5L401.8 428.5L401.8 428.5L403.2 428.3L403.2 428.3L403.2 428.3L403.9 427.5L403.9 427.5L403.9 427.5L403.7 426.5L403.7 426.5L403.7 426.5L402.7 425.6L402.7 425.6L402.7 425.6L401.2 425.1L401.2 425.1L401.2 425.1L399.8 425.3L399.8 425.3L399.8 425.3L399.1 426.1ZM395.3 420.2L395.3 420.2L395.9 420.7L395.9 420.7L395.9 420.7L397.4 421.0L397.4 421.0L397.4 421.0L399.2 421.0L399.2 421.0L399.2 421.0L400.7 420.7L400.7 420.7L400.7 420.7L401.3 420.2L401.3 420.2L401.3 420.2L400.7 419.7L400.7 419.7L400.7 419.7L399.2 419.4L399.2 419.4L399.2 419.4L397.4 419.4L397.4 419.4L397.4 419.4L395.9 419.7L395.9 419.7L395.9 419.7L395.3 420.2ZM395.8 425.0L395.8 425.0L396.0 425.5L396.0 425.5L396.0 425.5L396.6 425.9L396.6 425.9L396.6 425.9L397.4 425.9L397.4 425.9L397.4 425.9L398.0 425.5L398.0 425.5L398.0 425.5L398.2 425.0L398.2 425.0L398.2 425.0L398.0 424.5L398.0 424.5L398.0 424.5L397.4 424.1L397.4 424.1L397.4 424.1L396.6 424.1L396.6 424.1L396.6 424.1L396.0 424.5L396.0 424.5L396.0 424.5L395.8 425.0ZM385.1 415.6L385.1 415.6L385.9 416.6L385.9 416.6L385.9 416.6L387.0 417.4L387.0 417.4L387.0 417.4L388.2 417.7L388.2 417.7L388.2 417.7L388.9 417.5L388.9 417.5L388.9 417.5L388.9 416.8L388.9 416.8L388.9 416.8L388.1 415.8L388.1 415.8L388.1 415.8L387.0 415.0L387.0 415.0L387.0 415.0L385.8 414.7L385.8 414.7L385.8 414.7L385.1 414.9L385.1 414.9L385.1 414.9L385.1 415.6ZM367.1 410.0L367.1 410.0L367.5 411.1L367.5 411.1L367.5 411.1L368.6 411.7L368.6 411.7L368.6 411.7L370.0 411.7L370.0 411.7L370.0 411.7L371.1 411.1L371.1 411.1L371.1 411.1L371.5 410.0L371.5 410.0L371.5 410.0L371.1 408.9L371.1 408.9L371.1 408.9L370.0 408.3L370.0 408.3L370.0 408.3L368.6 408.3L368.6 408.3L368.6 408.3L367.5 408.9L367.5 408.9L367.5 408.9L367.1 410.0ZM325.6 441.6L325.6 441.6L330.0 445.4L330.0 445.4L334.3 448.2L334.3 448.2L334.3 448.2L335.3 447.5L335.3 447.5L335.3 447.5L331.0 444.4L331.0 444.4L326.5 440.6L326.5 440.6L326.5 440.6L325.6 441.6ZM320.2 436.6L320.2 436.6L323.6 439.7L323.6 439.7L323.6 439.7L324.5 438.8L324.5 438.8L324.5 438.8L321.0 435.6L321.0 435.6L321.0 435.6L320.2 436.6ZM315.2 432.5L315.2 432.5L318.6 435.2L318.6 435.2L318.6 435.2L319.5 434.3L319.5 434.3L319.5 434.3L316.0 431.6L316.0 431.6L316.0 431.6L315.2 432.5ZM245.3 399.5L245.3 399.5L250.0 402.5L250.0 402.5L250.0 402.5L255.0 401.5L255.0 401.5L255.0 401.5L255.0 401.5L260.2 402.0L260.2 402.0L260.2 402.0L260.3 402.0L260.3 402.0L260.3 402.0L260.3 402.0L260.3 402.0L260.3 402.0L260.3 402.1L260.3 402.1L260.3 402.1L261.5 405.0L261.5 405.0L261.5 405.0L261.5 405.0L261.5 405.0L261.5 405.0L261.2 408.6L261.2 408.7L261.2 408.7L261.2 408.7L261.2 408.7L261.2 408.7L261.2 408.7L261.2 408.7L258.0 412.0L258.0 412.0L253.7 415.3L253.7 415.3L253.7 415.3L251.2 418.7L251.2 418.7L251.2 418.7L254.0 421.0L254.0 421.0L254.0 421.0L254.0 421.0L254.0 421.0L254.0 421.0L254.0 421.0L255.3 425.3L255.3 425.3L255.3 425.3L257.9 426.0L258.0 426.0L258.0 426.0L258.0 426.0L258.0 426.0L258.0 426.0L258.0 426.0L258.0 426.0L258.0 426.1L260.3 430.3L260.3 430.3L260.3 430.3L263.0 432.0L263.0 432.0L263.0 432.0L268.0 432.5L268.0 432.5L268.0 432.5L268.0 432.5L268.0 432.5L270.9 433.9L270.9 433.9L270.9 434.0L270.9 434.0L270.9 434.0L270.9 434.0L270.9 434.0L271.0 434.0L271.0 434.0L271.0 434.0L271.0 434.1L271.0 434.1L271.0 434.1L271.0 434.1L271.0 434.1L271.0 434.1L270.0 437.0L270.0 437.0L270.0 437.0L270.0 437.0L270.0 437.0L270.0 437.0L265.5 441.2L265.5 441.2L260.5 445.0L260.5 445.0L257.0 448.3L257.0 448.3L257.0 448.3L262.0 445.0L268.0 441.0L268.0 441.0L274.0 436.0L274.0 436.0L274.0 436.0L277.0 431.7L277.0 431.7L281.5 426.3L281.5 426.3L284.5 423.3L284.5 423.3L284.5 423.3L284.5 423.3L284.5 423.3L288.0 421.8L288.0 421.8L288.0 421.8L288.0 421.8L292.0 421.3L292.0 421.3L292.0 421.3L292.0 421.3L297.0 422.0L297.0 422.0L297.0 422.0L297.0 422.0L297.0 422.0L302.0 425.0L302.0 425.0L306.0 427.5L306.0 427.5L306.0 427.5L310.0 429.0L310.0 429.0L310.0 429.0L313.6 431.2L313.6 431.2L313.6 431.2L314.5 430.3L314.5 430.3L314.5 430.3L311.0 428.0L311.0 428.0L311.0 428.0L307.6 426.7L307.6 426.7L307.6 426.7L307.6 426.7L307.5 426.7L307.5 426.7L307.5 426.7L307.5 426.7L307.5 426.7L307.5 426.6L307.5 426.6L307.5 426.6L307.5 426.6L307.5 373.7L307.5 373.7L307.5 373.7L305.3 372.8L305.3 372.8L305.3 372.8L297.0 372.0L297.0 372.0L288.7 370.3L288.7 370.3L283.0 369.0L283.0 369.0L277.0 367.8L277.0 367.8L273.0 366.5L273.0 366.5L273.0 366.5L273.0 366.5L270.3 364.5L270.3 364.5L270.3 364.5L267.5 366.0L267.5 366.0L267.5 366.0L264.0 369.0L264.0 369.0L264.0 369.0L258.7 372.0L258.7 372.0L258.7 372.0L253.0 377.0L253.0 377.0L248.7 381.2L248.7 381.2L248.7 381.2L249.5 384.0L249.5 384.0L249.5 384.0L252.0 386.5L252.0 386.5L252.0 386.5L258.0 388.5L258.0 388.5L258.0 388.5L263.5 391.9L263.5 391.9L263.5 391.9L263.5 391.9L263.5 391.9L263.5 391.9L263.5 391.9L263.5 391.9L263.5 392.0L263.5 392.0L263.5 392.0L263.5 392.0L263.5 392.0L263.5 392.0L263.5 392.0L263.5 392.1L263.5 392.1L263.5 392.1L263.5 392.1L263.5 392.1L263.5 392.1L263.5 392.1L260.0 394.0L260.0 394.0L260.0 394.0L255.3 395.3L255.3 395.3L249.0 397.0L249.0 397.0L249.0 397.0L245.3 399.5ZM284.2 426.6L284.2 426.6L285.2 428.8L285.2 428.8L285.2 428.8L287.3 427.4L287.3 427.4L287.3 427.4L286.3 425.6L286.3 425.6L286.3 425.6L284.2 426.6Z" fill="#fff" stroke="#000" stroke-width="1.8" stroke-linejoin="round"/></mask>
<g mask="url(#land)" fill="none" stroke="#fff" stroke-opacity="0.72" stroke-width="1.2" stroke-linejoin="round">
<path d="M245.5 140.0L296.3 140.0L296.3 182.5L285.0 182.8L272.0 183.7L260.3 185.0L254.0 186.0L249.5 186.2L246.0 184.5L243.7 182.0L239.0 180.5L234.5 179.5L233.5 175.0L232.0 168.0L229.0 160.0L226.5 154.0L229.0 151.3L236.0 152.2L241.0 153.2L241.5 160.0L242.0 166.0L245.0 168.8L249.0 166.0L250.0 159.0L248.5 150.0L246.0 144.0Z"/>
<path d="M234.5 179.5L239.0 180.5L243.7 182.0L246.0 184.5L249.5 186.2L254.0 186.0L260.3 185.0L272.0 183.7L285.0 182.8L296.3 182.5L300.3 187.0L300.8 193.3L298.0 198.0L296.7 200.3L299.5 204.5L296.3 209.5L296.3 236.4L231.0 236.4L229.5 232.0L228.7 222.0L231.0 212.0L232.2 198.7L233.0 190.0L234.5 182.0Z"/>
<path d="M231.0 236.4L268.7 236.4L268.7 271.2L320.5 318.0L323.7 323.7L324.2 325.5L320.8 333.3L322.5 340.0L320.0 344.4L302.0 346.2L300.3 345.3L295.3 338.7L288.7 332.0L280.3 327.8L272.0 323.7L268.0 320.5L263.7 316.2L258.7 310.3L253.7 302.0L252.0 293.7L249.5 290.3L250.5 286.0L253.0 281.0L250.0 282.5L247.0 283.7L243.7 282.0L237.8 273.7L234.5 265.3L232.0 252.0L232.0 245.3Z"/>
<path d="M268.7 236.4L325.4 236.4L325.4 297.7L325.4 304.7L320.0 305.8L320.8 313.3L320.5 318.0L268.7 271.2Z"/>
<path d="M296.3 140.0L305.3 140.0L305.8 155.0L307.0 157.5L312.0 165.0L318.7 173.7L322.8 174.5L320.3 182.0L320.0 187.5L322.5 190.8L325.8 187.8L330.0 195.0L335.8 205.5L341.7 203.5L348.0 203.0L354.3 202.6L354.3 236.4L296.3 236.4L296.3 209.5L299.5 204.5L296.7 200.3L298.0 198.0L300.8 193.3L300.3 187.0L296.3 182.5Z"/>
<path d="M305.3 140.0L420.4 140.0L420.4 196.3L354.3 196.3L354.3 202.6L348.0 203.0L341.7 203.5L335.8 205.5L330.0 195.0L325.8 187.8L322.5 190.8L320.0 187.5L320.3 182.0L322.8 174.5L318.7 173.7L312.0 165.0L307.0 157.5L305.8 155.0L305.3 140.0Z"/>
<path d="M354.3 196.3L420.4 196.3L420.4 248.9L354.3 248.9Z"/>
<path d="M325.4 236.4L354.3 236.4L354.3 248.9L373.3 248.9L373.3 297.7L325.4 297.7Z"/>
<path d="M373.3 248.9L439.6 248.9L439.6 297.7L373.3 297.7Z"/>
<path d="M373.3 297.7L373.3 359.5L355.0 358.3L320.0 344.4L322.5 340.0L320.8 333.3L324.2 325.5L323.7 323.7L320.5 318.0L320.8 313.3L320.0 305.8L325.4 304.7L325.4 297.7Z"/>
<path d="M373.3 297.7L429.6 297.7L429.6 354.8L399.5 354.8L399.5 355.8L381.5 355.8L381.5 359.5L373.3 359.5Z"/>
<path d="M420.4 140.0L485.3 140.0L487.0 148.0L488.0 152.0L490.0 160.0L490.8 173.3L490.8 184.3L420.4 184.3Z"/>
<path d="M420.4 184.3L490.8 184.3L489.2 189.2L493.3 193.3L493.7 218.3L492.5 220.5L493.3 222.0L488.3 221.2L481.7 223.2L420.4 223.2Z"/>
<path d="M420.4 223.2L481.7 223.2L488.3 221.2L493.3 222.0L496.7 228.7L498.5 235.0L500.0 242.0L501.5 248.0L503.3 254.5L506.0 258.0L507.5 260.3L439.6 260.3L439.6 248.9L420.4 248.9Z"/>
<path d="M439.6 260.3L507.5 260.3L510.0 262.0L511.5 264.5L513.0 266.0L513.1 297.8L439.6 297.8Z"/>
<path d="M429.6 297.8L513.1 297.8L513.1 305.0L515.0 310.0L516.2 332.5L512.5 334.4L505.0 332.5L492.5 333.1L482.5 331.9L473.7 330.6L467.5 328.1L461.9 327.5L461.9 302.5L429.6 302.5Z"/>
<path d="M429.6 302.5L461.9 302.5L461.9 327.5L467.5 328.1L473.7 330.6L482.5 331.9L492.5 333.1L505.0 332.5L512.5 334.4L516.2 332.5L518.0 335.5L518.7 345.3L518.5 358.3L522.7 365.0L526.8 371.7L524.3 377.5L518.0 378.2L511.0 378.7L507.2 381.2L504.8 386.2L497.3 388.7L491.1 392.4L487.3 397.4L483.6 401.1L481.3 406.1L483.4 411.1L485.2 420.0L481.5 418.5L477.4 416.3L473.0 413.8L469.0 410.5L467.5 407.0L464.9 401.1L460.5 393.5L456.2 386.2L452.0 381.5L446.7 378.3L438.3 380.0L431.7 385.0L420.0 379.2L416.7 373.3L408.3 363.3L399.5 355.8L399.5 354.8L429.6 354.8Z"/>
<path d="M493.7 218.3L493.3 193.3L489.2 189.2L490.8 184.3L490.8 173.3L490.0 160.0L488.0 152.0L487.0 148.0L485.3 140.0L510.6 140.0L510.6 132.3L513.8 132.3L513.8 140.3L524.7 142.8L538.0 147.0L549.7 148.7L561.3 154.5L549.7 162.8L538.0 172.0L536.7 175.8L535.0 180.0L528.3 187.5L527.8 191.0L528.4 199.5L532.3 202.8L536.0 205.6L540.7 210.3L543.3 214.0L544.2 218.3L493.7 218.3Z"/>
<path d="M493.7 218.3L544.2 218.3L545.5 225.3L552.2 230.3L554.7 233.7L553.0 239.5L547.2 243.7L542.2 253.7L541.3 258.7L539.7 254.5L503.3 254.5L501.5 248.0L500.0 242.0L498.5 235.0L496.7 228.7L493.3 222.0L492.5 220.5Z"/>
<path d="M539.7 254.5L541.3 258.7L547.5 267.0L552.5 273.7L555.0 281.5L560.0 287.8L562.5 295.0L558.7 301.2L558.7 305.2L557.5 310.0L555.0 313.5L553.1 313.5L551.9 305.5L513.1 305.0L513.0 266.0L511.5 264.5L510.0 262.0L507.5 260.3L506.0 258.0L503.3 254.5Z"/>
<path d="M513.1 305.0L551.9 305.5L553.1 313.5L555.0 313.5L549.7 321.3L544.7 327.0L542.2 335.3L544.3 345.3L518.7 345.3L518.0 335.5L516.2 332.5L515.0 310.0L513.1 305.0Z"/>
<path d="M544.3 345.3L546.0 351.7L542.7 360.0L542.7 366.0L559.3 366.7L561.0 370.8L556.0 371.0L554.3 373.3L557.0 375.0L561.0 375.5L563.0 378.0L561.0 381.0L564.5 385.0L563.0 387.0L559.3 385.8L556.0 383.0L552.7 384.2L549.0 382.5L544.3 383.3L541.0 381.0L537.7 378.3L533.0 377.5L529.3 379.2L524.3 377.5L526.8 371.7L522.7 365.0L518.5 358.3L518.7 345.3Z"/>
<path d="M538.0 172.0L545.0 174.2L546.7 176.7L555.0 177.5L560.0 180.0L570.0 183.1L577.5 186.2L580.0 191.2L577.5 195.5L573.5 202.5L571.5 210.0L576.8 203.5L580.8 198.5L583.5 192.5L582.0 199.0L578.3 205.0L575.8 216.7L576.7 231.2L553.0 231.2L552.2 230.3L545.5 225.3L544.2 218.3L543.3 214.0L540.7 210.3L536.0 205.6L532.3 202.8L528.4 199.5L527.8 191.0L528.3 187.5L535.0 180.0L536.7 175.8L538.0 172.0Z"/>
<path d="M553.0 231.2L576.7 231.2L578.8 233.0L578.8 271.2L577.2 282.0L575.0 287.5L570.6 293.7L562.5 295.0L560.0 287.8L555.0 281.5L552.5 273.7L547.5 267.0L541.3 258.7L542.2 253.7L547.2 243.7L553.0 239.5L554.7 233.7L552.2 230.3Z"/>
<path d="M555.0 177.5L558.3 175.0L566.7 170.0L570.0 171.2L573.0 167.0L576.2 164.4L578.0 165.5L573.7 173.7L576.2 175.0L582.5 178.7L591.2 178.1L596.2 176.2L602.5 175.6L603.7 178.7L610.0 181.2L607.5 183.7L603.7 185.0L597.5 183.1L591.2 184.4L587.5 185.6L585.0 188.7L583.1 192.5L580.0 191.2L577.5 186.2L570.0 183.1L560.0 180.0Z"/>
<path d="M606.2 190.0L611.2 191.2L616.2 193.7L619.4 197.5L618.7 202.5L617.5 207.5L616.0 212.0L618.0 215.0L620.5 212.0L623.7 211.5L626.2 217.5L626.9 226.2L623.7 232.5L621.2 237.5L618.8 238.7L589.7 238.7L591.3 230.3L593.0 220.3L591.2 211.2L593.7 205.0L596.2 200.0L601.2 197.5L603.7 192.5Z"/>
<path d="M578.8 233.0L579.7 240.3L589.7 238.7L605.0 238.7L605.0 271.9L597.5 277.5L593.0 282.5L590.0 281.9L586.3 285.0L582.5 286.2L578.7 286.2L575.0 287.5L577.2 282.0L578.8 271.2Z"/>
<path d="M605.0 238.7L618.8 238.7L621.2 241.2L628.7 243.1L637.5 241.2L646.5 237.3L646.5 250.0L645.6 253.7L643.7 260.0L640.0 266.2L635.0 270.0L628.7 273.7L625.6 278.4L617.5 276.2L610.0 274.4L605.0 271.9Z"/>
<path d="M570.6 293.7L562.5 295.0L558.7 301.2L558.7 305.2L575.0 305.2L575.0 303.1L618.7 303.1L621.2 301.5L627.5 297.0L632.5 292.2L627.5 285.0L625.6 278.4L617.5 276.2L610.0 274.4L605.0 271.9L597.5 277.5L593.0 282.5L590.0 281.9L586.3 285.0L582.5 286.2L578.7 286.2L575.0 287.5Z"/>
<path d="M558.7 305.2L575.0 305.2L575.0 303.1L636.2 303.1L631.2 308.7L625.0 312.0L618.7 315.0L613.7 317.8L613.7 321.4L549.7 321.4L555.0 313.5L557.5 310.0Z"/>
<path d="M549.7 321.4L573.0 321.4L572.2 338.7L571.0 355.0L570.8 371.7L566.0 372.0L562.0 374.0L561.0 370.8L559.3 366.7L542.7 366.0L542.7 360.0L546.0 351.7L544.3 345.3L542.2 335.3L544.7 327.0L549.7 321.3Z"/>
<path d="M573.0 321.4L597.2 321.4L598.3 330.0L600.8 346.7L603.3 353.3L602.5 360.0L604.2 367.0L579.2 367.0L579.2 371.0L577.0 370.0L575.0 366.7L573.5 371.0L570.8 371.7L571.0 355.0L572.2 338.7L573.0 321.4Z"/>
<path d="M597.2 321.4L617.5 321.4L622.5 327.5L627.5 333.7L635.0 338.7L637.5 345.0L641.2 351.5L640.0 356.7L638.0 363.0L636.7 369.2L633.3 370.0L631.7 375.0L630.0 371.7L608.3 370.8L604.2 367.0L602.5 360.0L603.3 353.3L600.8 346.7L598.3 330.0L597.2 321.4Z"/>
<path d="M579.2 367.0L604.2 367.0L608.3 370.8L630.0 371.7L631.7 375.0L633.3 370.0L636.7 369.2L638.3 380.0L640.0 388.3L643.3 396.7L646.7 406.7L649.0 416.7L648.3 423.3L646.3 428.5L640.8 429.5L639.0 425.3L634.3 420.0L631.3 413.3L628.3 406.7L624.2 400.0L625.8 395.0L623.3 388.3L620.0 383.3L616.7 380.0L613.3 378.3L606.7 377.5L600.0 378.3L596.0 375.0L591.7 372.5L585.0 371.5L579.2 371.0Z"/>
<path d="M617.5 321.4L622.5 320.0L627.5 321.9L632.5 325.0L642.5 326.2L655.0 327.5L661.2 335.0L656.2 341.2L650.0 346.2L643.7 348.7L641.2 351.5L637.5 345.0L635.0 338.7L627.5 333.7L622.5 327.5L617.5 321.4Z"/>
<path d="M636.2 303.1L690.0 303.1L691.0 306.0L686.0 306.3L682.5 307.5L686.5 309.2L691.2 311.2L689.0 314.0L684.0 314.3L680.5 316.5L684.5 318.0L686.0 320.5L681.2 323.7L675.0 330.0L670.0 332.5L661.2 335.0L655.0 327.5L642.5 326.2L632.5 325.0L627.5 321.9L622.5 320.0L617.5 321.4L613.7 321.4L613.7 317.8L618.7 315.0L625.0 312.0L631.2 308.7L636.2 303.1Z"/>
<path d="M618.7 303.1L621.2 301.5L627.5 297.0L632.5 292.2L637.5 293.1L641.2 295.6L646.2 296.2L651.2 292.5L652.5 286.2L656.2 282.5L660.0 278.7L665.0 273.7L667.5 268.7L672.5 267.5L675.0 271.2L677.5 275.0L680.0 280.0L683.7 285.0L685.0 289.0L687.5 292.0L686.0 296.0L690.0 300.0L690.0 303.1L618.7 303.1Z"/>
<path d="M691.2 282.5L694.0 283.0L692.5 288.0L690.0 292.5L689.0 288.0Z"/>
<path d="M625.6 278.4L627.5 285.0L632.5 292.2L637.5 293.1L641.2 295.6L646.2 296.2L651.2 292.5L652.5 286.2L656.2 282.5L660.0 278.7L665.0 273.7L667.5 268.7L672.5 267.5L668.7 265.0L662.5 266.2L655.6 268.7L655.6 263.2L646.5 263.2L646.5 250.0L645.6 253.7L643.7 260.0L640.0 266.2L635.0 270.0L628.7 273.7L625.6 278.4Z"/>
<path d="M655.6 263.2L690.0 263.2L691.0 270.0L693.0 276.0L696.2 282.5L694.0 283.0L691.2 282.5L688.0 279.0L687.5 272.0L686.5 266.5L684.5 267.0L684.0 272.0L683.5 277.0L684.0 283.0L680.0 280.0L677.5 275.0L675.0 271.2L672.5 267.5L668.7 265.0L662.5 266.2L655.6 268.7Z"/>
<path d="M690.0 263.2L693.0 262.5L694.0 266.0L695.0 270.0L697.5 277.5L696.2 282.5L693.0 276.0L691.0 270.0Z"/>
<path d="M646.5 237.3L652.5 235.0L652.5 236.9L697.5 236.9L701.2 245.0L698.7 252.5L701.2 258.7L697.5 261.5L693.0 262.5L690.0 263.2L646.5 263.2Z"/>
<path d="M701.2 245.0L707.5 250.0L706.5 255.0L708.1 260.0L706.0 265.0L703.7 267.5L698.7 270.0L695.0 266.2L697.5 261.5L701.2 258.7L698.7 252.5Z"/>
<path d="M652.5 235.0L658.0 228.0L663.7 222.5L664.0 220.3L672.0 219.5L680.0 220.0L688.0 219.0L690.0 214.0L691.2 207.5L694.0 203.0L697.5 200.0L701.0 196.5L705.0 193.7L713.7 193.7L713.4 210.0L713.0 226.2L710.6 226.2L710.6 247.5L710.6 250.5L708.5 252.5L707.5 250.0L701.2 245.0L697.5 236.9L652.5 236.9Z"/>
<path d="M710.5 252.5L714.0 250.5L719.0 249.0L723.0 248.5L719.0 251.0L714.0 252.8L710.5 253.8Z"/>
<path d="M713.7 193.7L730.0 193.7L730.6 200.0L726.2 203.7L724.4 212.5L722.5 226.2L713.0 226.2L713.4 210.0Z"/>
<path d="M733.7 190.0L735.6 190.0L736.0 196.0L738.7 208.7L741.2 217.5L738.7 223.7L736.2 226.2L722.5 226.2L724.4 212.5L726.2 203.7L730.6 200.0L730.0 193.7L732.0 193.0Z"/>
<path d="M735.6 190.0L737.7 188.7L738.5 186.2L743.5 180.3L746.0 168.7L748.5 159.0L750.6 156.6L753.5 159.2L757.0 157.5L761.0 156.3L765.5 158.8L768.5 168.7L771.0 180.3L776.0 181.0L781.0 182.8L784.3 188.7L782.7 194.5L777.5 195.0L774.3 198.7L767.5 200.0L767.7 203.7L760.0 205.0L756.0 208.0L750.0 210.0L746.0 214.0L741.2 217.5L738.7 208.7L736.0 196.0L735.6 190.0Z"/>
<path d="M710.6 226.2L736.2 226.2L738.7 223.7L741.2 223.1L739.5 227.0L738.1 230.0L736.9 233.7L741.2 236.2L744.0 235.5L743.0 238.5L740.0 240.0L737.0 238.0L735.0 240.5L735.0 237.5L710.6 237.5Z"/>
<path d="M710.6 237.5L731.2 237.5L731.2 242.5L721.2 245.0L715.0 246.5L710.6 247.5Z"/>
<path d="M731.2 237.5L735.0 237.5L735.0 240.5L733.5 242.3L731.2 242.5Z"/>
<path d="M270.3 364.5L273.0 366.5L277.0 367.8L283.0 369.0L288.7 370.3L297.0 372.0L305.3 372.8L307.5 373.7L307.5 426.7L311.0 428.0L314.5 430.3L313.6 431.2L310.0 429.0L306.0 427.5L302.0 425.0L297.0 422.0L292.0 421.3L288.0 421.8L284.5 423.3L281.5 426.3L277.0 431.7L274.0 436.0L268.0 441.0L262.0 445.0L257.0 448.3L260.5 445.0L265.5 441.2L270.0 437.0L271.0 434.0L268.0 432.5L263.0 432.0L260.3 430.3L258.0 426.0L255.3 425.3L254.0 421.0L251.2 418.7L253.7 415.3L258.0 412.0L261.2 408.7L261.5 405.0L260.3 402.0L255.0 401.5L250.0 402.5L245.3 399.5L249.0 397.0L255.3 395.3L260.0 394.0L263.7 392.0L258.0 388.5L252.0 386.5L249.5 384.0L248.7 381.2L253.0 377.0L258.7 372.0L264.0 369.0L267.5 366.0Z"/>
<path d="M284.2 426.6L286.3 425.6L287.3 427.4L285.2 428.8Z"/>
<path d="M316.0 431.6L319.5 434.3L318.6 435.2L315.2 432.5Z"/>
<path d="M321.0 435.6L324.5 438.8L323.6 439.7L320.2 436.6Z"/>
<path d="M326.5 440.6L331.0 444.4L335.3 447.5L334.3 448.2L330.0 445.4L325.6 441.6Z"/>
<path d="M371.5 410.0L371.1 411.1L370.0 411.7L368.6 411.7L367.5 411.1L367.1 410.0L367.5 408.9L368.6 408.3L370.0 408.3L371.1 408.9Z"/>
<path d="M388.9 417.5L388.2 417.7L387.0 417.4L385.9 416.6L385.1 415.6L385.1 414.9L385.8 414.7L387.0 415.0L388.1 415.8L388.9 416.8Z"/>
<path d="M401.3 420.2L400.7 420.7L399.2 421.0L397.4 421.0L395.9 420.7L395.3 420.2L395.9 419.7L397.4 419.4L399.2 419.4L400.7 419.7Z"/>
<path d="M403.9 427.5L403.2 428.3L401.8 428.5L400.3 428.0L399.3 427.1L399.1 426.1L399.8 425.3L401.2 425.1L402.7 425.6L403.7 426.5Z"/>
<path d="M398.2 425.0L398.0 425.5L397.4 425.9L396.6 425.9L396.0 425.5L395.8 425.0L396.0 424.5L396.6 424.1L397.4 424.1L398.0 424.5Z"/>
<path d="M406.0 437.5L409.0 435.0L412.0 437.5L415.5 440.0L416.5 443.0L413.0 445.0L411.5 447.8L408.0 447.5L406.3 444.0L405.3 440.5Z"/>
</g>
<rect x="677.3" y="273.6" width="3" height="3" fill="#64b4dc" stroke="#fff" stroke-width="0.8"/>
<path d="M228.7 454.5V359.5H312.8L421.7 415.8V454.8H228.7M364.2 386.7L331.5 454.5" stroke="#9a9a9a" stroke-width="0.7" stroke-dasharray="0.8 1.2" fill="none"/>
<path d="M608 183.5H621.6V197.7H618.7M621.6 190.6H628.7M735.2 160.3V193.5M719.4 181.2V199M781.2 187.2H803.7M738.7 230.2H749.4L757.5 223.7M735 241.9H748.7L756.9 236.2M726.5 245L732.7 250.7H759.4M707.5 264.2H766.2M696.2 282.7H776.9M691.8 284.5L709.3 301.3H776.9M680 278.7L720.2 317.3H743.5M681 288.7L720.2 331.2H743.5M672.5 332L692.5 351.8H708.3M655 344.4L678.3 367H693.3M533.2 367.5V402.5M564.8 360V387.5" stroke="#8a9094" stroke-width="0.9" fill="none"/>
<text x="226.2" y="159.5" font-size="12.4" fill="#27536f" textLength="66.6" lengthAdjust="spacingAndGlyphs" stroke="#27536f" stroke-width="0.28" stroke-linejoin="round">Washington</text>
<text x="240.7" y="214.4" font-size="12.4" fill="#27536f" textLength="40.9" lengthAdjust="spacingAndGlyphs" stroke="#27536f" stroke-width="0.28" stroke-linejoin="round">Oregon</text>
<text x="305.0" y="214.5" font-size="12.4" fill="#733229" textLength="32.5" lengthAdjust="spacingAndGlyphs" stroke="#733229" stroke-width="0.28" stroke-linejoin="round">Idaho</text>
<text x="349.8" y="159.8" font-size="12.4" fill="#733229" textLength="49.4" lengthAdjust="spacingAndGlyphs" stroke="#733229" stroke-width="0.28" stroke-linejoin="round">Montana</text>
<text x="433.3" y="159.5" font-size="12.4" fill="#733229" textLength="31.7" lengthAdjust="spacingAndGlyphs" stroke="#733229" stroke-width="0.28" stroke-linejoin="round">North</text>
<text x="429.2" y="171.7" font-size="12.4" fill="#733229" textLength="40.0" lengthAdjust="spacingAndGlyphs" stroke="#733229" stroke-width="0.28" stroke-linejoin="round">Dakota</text>
<text x="432.5" y="200.3" font-size="12.4" fill="#733229" textLength="33.3" lengthAdjust="spacingAndGlyphs" stroke="#733229" stroke-width="0.28" stroke-linejoin="round">South</text>
<text x="429.2" y="212.5" font-size="12.4" fill="#733229" textLength="40.0" lengthAdjust="spacingAndGlyphs" stroke="#733229" stroke-width="0.28" stroke-linejoin="round">Dakota</text>
<text x="360.0" y="214.5" font-size="12.4" fill="#733229" textLength="53.3" lengthAdjust="spacingAndGlyphs" stroke="#733229" stroke-width="0.28" stroke-linejoin="round">Wyoming</text>
<text x="277.0" y="267.0" font-size="12.4" fill="#27536f" textLength="41.7" lengthAdjust="spacingAndGlyphs" stroke="#27536f" stroke-width="0.28" stroke-linejoin="round">Nevada</text>
<text x="336.7" y="267.0" font-size="12.4" fill="#733229" textLength="26.1" lengthAdjust="spacingAndGlyphs" stroke="#733229" stroke-width="0.28" stroke-linejoin="round">Utah</text>
<text x="380.8" y="267.0" font-size="12.4" fill="#27536f" textLength="51.7" lengthAdjust="spacingAndGlyphs" stroke="#27536f" stroke-width="0.28" stroke-linejoin="round">Colorado</text>
<text x="437.5" y="237.8" font-size="12.4" fill="#733229" textLength="52.5" lengthAdjust="spacingAndGlyphs" stroke="#733229" stroke-width="0.28" stroke-linejoin="round">Nebraska</text>
<text x="455.8" y="276.7" font-size="12.4" fill="#733229" textLength="39.2" lengthAdjust="spacingAndGlyphs" stroke="#733229" stroke-width="0.28" stroke-linejoin="round">Kansas</text>
<text x="510.5" y="232.3" font-size="12.4" fill="#733229" textLength="26.7" lengthAdjust="spacingAndGlyphs" stroke="#733229" stroke-width="0.28" stroke-linejoin="round">Iowa</text>
<text x="543.8" y="261.7" font-size="12.4" fill="#27536f" textLength="33.4" lengthAdjust="spacingAndGlyphs" stroke="#27536f" stroke-width="0.28" stroke-linejoin="round">Illinois</text>
<text x="581.3" y="252.3" font-size="12.4" fill="#733229" textLength="20.9" lengthAdjust="spacingAndGlyphs" stroke="#733229" stroke-width="0.28" stroke-linejoin="round">Ind.</text>
<text x="608.0" y="253.7" font-size="12.4" fill="#733229" textLength="25.8" lengthAdjust="spacingAndGlyphs" stroke="#733229" stroke-width="0.28" stroke-linejoin="round">Ohio</text>
<text x="513.8" y="297.8" font-size="12.4" fill="#733229" textLength="45.0" lengthAdjust="spacingAndGlyphs" stroke="#733229" stroke-width="0.28" stroke-linejoin="round">Missouri</text>
<text x="518.8" y="318.7" font-size="12.4" fill="#733229" textLength="28.4" lengthAdjust="spacingAndGlyphs" stroke="#733229" stroke-width="0.28" stroke-linejoin="round">Arka.</text>
<text x="565.6" y="318.7" font-size="12.4" fill="#733229" textLength="30.0" lengthAdjust="spacingAndGlyphs" stroke="#733229" stroke-width="0.28" stroke-linejoin="round">Tenn.</text>
<text x="575.6" y="297.5" font-size="12.4" fill="#733229" textLength="28.1" lengthAdjust="spacingAndGlyphs" stroke="#733229" stroke-width="0.28" stroke-linejoin="round">Kent.</text>
<text x="473.7" y="313.7" font-size="12.4" fill="#733229" textLength="28.8" lengthAdjust="spacingAndGlyphs" stroke="#733229" stroke-width="0.28" stroke-linejoin="round">Okla.</text>
<text x="451.0" y="352.5" font-size="12.4" fill="#733229" textLength="32.5" lengthAdjust="spacingAndGlyphs" stroke="#733229" stroke-width="0.28" stroke-linejoin="round">Texas</text>
<text x="390.0" y="312.5" font-size="12.4" fill="#27536f" textLength="24.2" lengthAdjust="spacingAndGlyphs" stroke="#27536f" stroke-width="0.28" stroke-linejoin="round">New</text>
<text x="382.5" y="324.2" font-size="12.4" fill="#27536f" textLength="38.3" lengthAdjust="spacingAndGlyphs" stroke="#27536f" stroke-width="0.28" stroke-linejoin="round">Mexico</text>
<text x="327.0" y="324.2" font-size="12.4" fill="#733229" textLength="41.7" lengthAdjust="spacingAndGlyphs" stroke="#733229" stroke-width="0.28" stroke-linejoin="round">Arizona</text>
<text x="264.0" y="323.7" font-size="12.4" fill="#27536f" textLength="53.0" lengthAdjust="spacingAndGlyphs" stroke="#27536f" stroke-width="0.28" stroke-linejoin="round">California</text>
<text x="268.3" y="396.7" font-size="12.4" fill="#733229" textLength="36.2" lengthAdjust="spacingAndGlyphs" stroke="#733229" stroke-width="0.28" stroke-linejoin="round">Alaska</text>
<text x="491.3" y="159.2" font-size="12.4" fill="#27536f" textLength="57.9" lengthAdjust="spacingAndGlyphs" stroke="#27536f" stroke-width="0.28" stroke-linejoin="round">Minnesota</text>
<text x="530.8" y="200.0" font-size="12.4" fill="#733229" textLength="55.9" lengthAdjust="spacingAndGlyphs" stroke="#733229" stroke-width="0.28" stroke-linejoin="round">Wisconsin</text>
<text x="666.2" y="218.7" font-size="12.4" fill="#474849" textLength="23.8" lengthAdjust="spacingAndGlyphs" stroke="#474849" stroke-width="0.28" stroke-linejoin="round">New</text>
<text x="666.2" y="230.6" font-size="12.4" fill="#27536f" textLength="23.8" lengthAdjust="spacingAndGlyphs" stroke="#27536f" stroke-width="0.28" stroke-linejoin="round">York</text>
<text x="652.5" y="249.4" font-size="12.4" fill="#733229" textLength="31.2" lengthAdjust="spacingAndGlyphs" stroke="#733229" stroke-width="0.28" stroke-linejoin="round">Penn.</text>
<text x="638.0" y="280.0" font-size="12.4" fill="#733229" textLength="12.0" lengthAdjust="spacingAndGlyphs" stroke="#733229" stroke-width="0.28" stroke-linejoin="round">W.</text>
<text x="631.2" y="291.2" font-size="12.4" fill="#733229" textLength="21.3" lengthAdjust="spacingAndGlyphs" stroke="#733229" stroke-width="0.28" stroke-linejoin="round">Virg.</text>
<text x="573.3" y="361.7" font-size="12.4" fill="#733229" textLength="27.5" lengthAdjust="spacingAndGlyphs" stroke="#733229" stroke-width="0.28" stroke-linejoin="round">Alab.</text>
<text x="606.7" y="361.7" font-size="12.4" fill="#733229" textLength="43.3" lengthAdjust="spacingAndGlyphs" stroke="#733229" stroke-width="0.28" stroke-linejoin="round">Georgia</text>
<text x="622.5" y="414.2" font-size="12.4" fill="#474849" textLength="39.2" lengthAdjust="spacingAndGlyphs" stroke="#474849" stroke-width="0.28" stroke-linejoin="round">Florida</text>
<text x="744.0" y="191.2" font-size="12.4" fill="#27536f" textLength="32.8" lengthAdjust="spacingAndGlyphs" stroke="#27536f" stroke-width="0.28" stroke-linejoin="round">Maine</text>
<text x="493.5" y="414.1" font-size="12.3" fill="#474747" textLength="54.2" lengthAdjust="spacingAndGlyphs" stroke="#474747" stroke-width="0.12" stroke-linejoin="round">Louisiana</text>
<text x="552.5" y="398.9" font-size="12.3" fill="#474747" textLength="60.0" lengthAdjust="spacingAndGlyphs" stroke="#474747" stroke-width="0.12" stroke-linejoin="round">Mississippi</text>
<text x="631.0" y="193.1" font-size="12.3" fill="#474747" textLength="50.5" lengthAdjust="spacingAndGlyphs" stroke="#474747" stroke-width="0.12" stroke-linejoin="round">Michigan</text>
<text x="648.5" y="157.7" font-size="12.3" fill="#474747" textLength="89.5" lengthAdjust="spacingAndGlyphs" stroke="#474747" stroke-width="0.12" stroke-linejoin="round">New Hampshire</text>
<text x="674.3" y="177.6" font-size="12.3" fill="#474747" textLength="49.2" lengthAdjust="spacingAndGlyphs" stroke="#474747" stroke-width="0.12" stroke-linejoin="round">Vermont</text>
<text x="338.3" y="448.3" font-size="12.3" fill="#474747" textLength="38.4" lengthAdjust="spacingAndGlyphs" stroke="#474747" stroke-width="0.12" stroke-linejoin="round">Hawaii</text>
<text x="752.5" y="220.6" font-size="12.3" fill="#474747" textLength="83.1" lengthAdjust="spacingAndGlyphs" stroke="#474747" stroke-width="0.12" stroke-linejoin="round">Massachusetts</text>
<text x="759.7" y="236.9" font-size="12.3" fill="#474747" textLength="73.3" lengthAdjust="spacingAndGlyphs" stroke="#474747" stroke-width="0.12" stroke-linejoin="round">Rhode Island</text>
<text x="765.0" y="253.7" font-size="12.3" fill="#474747" textLength="68.5" lengthAdjust="spacingAndGlyphs" stroke="#474747" stroke-width="0.12" stroke-linejoin="round">Connecticut</text>
<text x="769.4" y="270.6" font-size="12.3" fill="#474747" textLength="63.6" lengthAdjust="spacingAndGlyphs" stroke="#474747" stroke-width="0.12" stroke-linejoin="round">New Jersey</text>
<text x="780.6" y="287.7" font-size="12.3" fill="#474747" textLength="52.4" lengthAdjust="spacingAndGlyphs" stroke="#474747" stroke-width="0.12" stroke-linejoin="round">Delaware</text>
<text x="780.6" y="304.4" font-size="12.3" fill="#474747" textLength="52.4" lengthAdjust="spacingAndGlyphs" stroke="#474747" stroke-width="0.12" stroke-linejoin="round">Maryland</text>
<text x="747.5" y="322.0" font-size="12.3" fill="#474747" textLength="85.8" lengthAdjust="spacingAndGlyphs" stroke="#474747" stroke-width="0.12" stroke-linejoin="round">Washington DC</text>
<text x="747.5" y="337.0" font-size="12.3" fill="#474747" textLength="41.7" lengthAdjust="spacingAndGlyphs" stroke="#474747" stroke-width="0.12" stroke-linejoin="round">Virginia</text>
<text x="712.5" y="356.2" font-size="12.3" fill="#474747" textLength="81.7" lengthAdjust="spacingAndGlyphs" stroke="#474747" stroke-width="0.12" stroke-linejoin="round">North Carolina</text>
<text x="696.7" y="370.7" font-size="12.3" fill="#474747" textLength="83.3" lengthAdjust="spacingAndGlyphs" stroke="#474747" stroke-width="0.12" stroke-linejoin="round">South Carolina</text>
<g fill="#fff" stroke="#fff" stroke-width="0.35" font-weight="bold" font-size="11.3" text-anchor="middle">
<text x="261.5" y="174.0">12</text>
<text x="260.7" y="231.2">7</text>
<text x="321.7" y="231.5">4</text>
<text x="374.3" y="174.2">3</text>
<text x="477.6" y="166.7">3</text>
<text x="477.6" y="205.7">3</text>
<text x="386.3" y="231.3">3</text>
<text x="297.8" y="282.4">6</text>
<text x="349.5" y="282.4">6</text>
<text x="405.8" y="282.4">9</text>
<text x="462.2" y="254.5">5</text>
<text x="475.0" y="290.3">6</text>
<text x="523.8" y="246.9">6</text>
<text x="564.3" y="274.9">20</text>
<text x="591.0" y="267.3">11</text>
<text x="619.3" y="267.3">18</text>
<text x="534.7" y="285.0">10</text>
<text x="531.0" y="335.2">6</text>
<text x="609.0" y="315.2">11</text>
<text x="610.2" y="298.7">8</text>
<text x="485.6" y="327.7">7</text>
<text x="468.5" y="368.0">38</text>
<text x="400.8" y="339.7">5</text>
<text x="348.7" y="339.9">11</text>
<text x="276.7" y="307.4">55</text>
<text x="286.2" y="410.8">3</text>
<text x="515.0" y="174.3">10</text>
<text x="558.3" y="216.3">10</text>
<text x="606.7" y="229.1">16</text>
<text x="700.0" y="226.1">29</text>
<text x="671.0" y="260.8">20</text>
<text x="653.7" y="280.8">5</text>
<text x="671.2" y="294.7">13</text>
<text x="657.5" y="320.2">15</text>
<text x="643.1" y="339.7">9</text>
<text x="619.4" y="348.3">16</text>
<text x="585.8" y="348.8">9</text>
<text x="563.8" y="359.7">6</text>
<text x="532.3" y="367.1">8</text>
<text x="635.5" y="400.4">29</text>
<text x="718.0" y="211.7">3</text>
<text x="731.2" y="217.1">4</text>
</g>
<rect x="837.5" y="206.9" width="16.5" height="14.6" fill="#64b4dc"/>
<text x="845.8" y="218.4" fill="#fff" stroke="#fff" stroke-width="0.3" font-weight="bold" font-size="11.2" text-anchor="middle">11</text>
<rect x="837.5" y="225" width="16.5" height="14.6" fill="#64b4dc"/>
<text x="845.8" y="236.5" fill="#fff" stroke="#fff" stroke-width="0.3" font-weight="bold" font-size="11.2" text-anchor="middle">4</text>
<rect x="837.5" y="242.4" width="16.5" height="14.6" fill="#64b4dc"/>
<text x="845.8" y="253.9" fill="#fff" stroke="#fff" stroke-width="0.3" font-weight="bold" font-size="11.2" text-anchor="middle">7</text>
<rect x="837.5" y="259" width="16.5" height="14.6" fill="#64b4dc"/>
<text x="845.8" y="270.5" fill="#fff" stroke="#fff" stroke-width="0.3" font-weight="bold" font-size="11.2" text-anchor="middle">14</text>
<rect x="837.5" y="276" width="16.5" height="14.6" fill="#64b4dc"/>
<text x="845.8" y="287.5" fill="#fff" stroke="#fff" stroke-width="0.3" font-weight="bold" font-size="11.2" text-anchor="middle">3</text>
<rect x="837.5" y="293" width="16.5" height="14.6" fill="#64b4dc"/>
<text x="845.8" y="304.5" fill="#fff" stroke="#fff" stroke-width="0.3" font-weight="bold" font-size="11.2" text-anchor="middle">10</text>
<rect x="837.5" y="310" width="16.5" height="14.6" fill="#64b4dc"/>
<text x="845.8" y="321.5" fill="#fff" stroke="#fff" stroke-width="0.3" font-weight="bold" font-size="11.2" text-anchor="middle">3</text>
<rect x="805" y="180" width="16.2" height="14.5" fill="#64b4dc"/><text x="813.1" y="191.5" fill="#fff" stroke="#fff" stroke-width="0.3" font-weight="bold" font-size="11.2" text-anchor="middle">3</text>
<rect x="823.1" y="180" width="16.2" height="14.5" fill="#ea836c"/><text x="831.2" y="191.5" fill="#fff" stroke="#fff" stroke-width="0.3" font-weight="bold" font-size="11.2" text-anchor="middle">1</text>
<rect x="380" y="436.7" width="15.8" height="14.6" fill="#64b4dc"/><text x="387.9" y="448.2" fill="#fff" stroke="#fff" stroke-width="0.3" font-weight="bold" font-size="11.2" text-anchor="middle">4</text>
<text x="226.0" y="466.8" font-size="10.9" fill="#4c4c4c" font-style="italic" textLength="120.3" lengthAdjust="spacingAndGlyphs" stroke="#4c4c4c" stroke-width="0.15" stroke-linejoin="round">Source: US television stations</text>
<rect x="699" y="398.3" width="94.3" height="60.2" rx="3.2" fill="#fff" stroke="#979797" stroke-width="0.9"/>
<text x="704.6" y="415.9" font-size="12.4" fill="#3a3a3a" font-weight="bold" textLength="82.9" lengthAdjust="spacingAndGlyphs">Total electoral</text>
<text x="708.5" y="429.0" font-size="12.4" fill="#3a3a3a" font-weight="bold" textLength="75.1" lengthAdjust="spacingAndGlyphs">college votes</text>
<text x="730.0" y="449.6" font-size="17.6" fill="#333" font-weight="bold" textLength="32.0" lengthAdjust="spacingAndGlyphs">538</text>
<text x="808.6" y="467.6" font-size="13" fill="#666">©</text>
<text x="822.0" y="467.1" font-size="14.6" fill="#1a6db8" font-weight="bold" font-style="italic" textLength="30.5" lengthAdjust="spacingAndGlyphs" stroke="#1a6db8" stroke-width="1.0" stroke-linejoin="round">AFP</text>
<path d="M822 463.6H838" stroke="#1a6db8" stroke-width="2" fill="none"/>
</svg>
</body></html>
